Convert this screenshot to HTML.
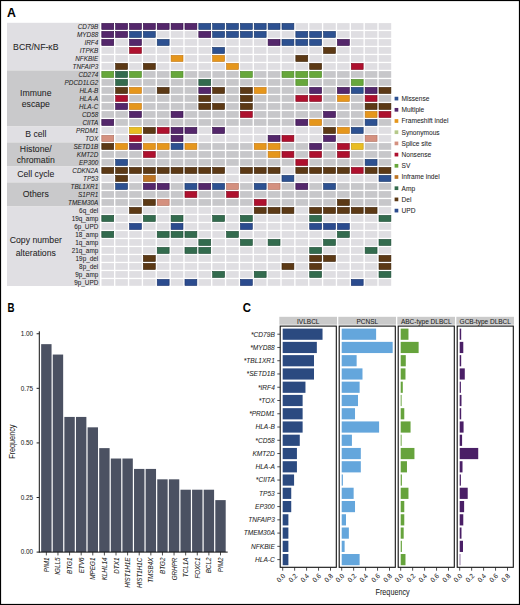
<!DOCTYPE html>
<html><head><meta charset="utf-8"><style>
html,body{margin:0;padding:0;background:#fff;}
svg{display:block;}
text{font-family:"Liberation Sans", sans-serif;stroke:#1e1e1e;stroke-width:0.05px;}
</style></head><body>
<svg width="520" height="605" viewBox="0 0 520 605" font-family="Liberation Sans, sans-serif">
<rect x="0" y="0" width="520" height="605" fill="#fff"/>
<text x="6.9" y="16.8" font-size="12" font-weight="bold" textLength="8.9" lengthAdjust="spacingAndGlyphs" fill="#000">A</text>
<rect x="7.0" y="22.80" width="93.0" height="47.65" fill="#e0dfe3"/>
<text x="35.8" y="49.62" font-size="8.7" text-anchor="middle" fill="#1e1e1e">BCR/NF-κB</text>
<rect x="7.0" y="70.45" width="93.0" height="56.00" fill="#c9c9cb"/>
<text x="35.8" y="96.25" font-size="8.7" text-anchor="middle" fill="#1e1e1e">Immune</text>
<text x="35.8" y="106.65" font-size="8.7" text-anchor="middle" fill="#1e1e1e">escape</text>
<rect x="7.0" y="126.45" width="93.0" height="16.00" fill="#e0dfe3"/>
<text x="35.8" y="137.45" font-size="8.7" text-anchor="middle" fill="#1e1e1e">B cell</text>
<rect x="7.0" y="142.45" width="93.0" height="24.00" fill="#c9c9cb"/>
<text x="35.8" y="152.25" font-size="8.7" text-anchor="middle" fill="#1e1e1e">Histone/</text>
<text x="35.8" y="162.65" font-size="8.7" text-anchor="middle" fill="#1e1e1e">chromatin</text>
<rect x="7.0" y="166.45" width="93.0" height="16.00" fill="#e0dfe3"/>
<text x="35.8" y="177.45" font-size="8.7" text-anchor="middle" fill="#1e1e1e">Cell cycle</text>
<rect x="7.0" y="182.45" width="93.0" height="24.00" fill="#c9c9cb"/>
<text x="35.8" y="197.45" font-size="8.7" text-anchor="middle" fill="#1e1e1e">Others</text>
<rect x="7.0" y="206.45" width="93.0" height="79.55" fill="#e0dfe3"/>
<text x="35.8" y="242.67" font-size="8.7" text-anchor="middle" fill="#1e1e1e">Copy number</text>
<text x="35.8" y="255.78" font-size="8.7" text-anchor="middle" fill="#1e1e1e">alterations</text>
<rect x="101.80" y="23.40" width="11.90" height="6.10" fill="#54276b" stroke="#300a45" stroke-width="0.6"/>
<rect x="115.66" y="23.40" width="11.90" height="6.10" fill="#54276b" stroke="#300a45" stroke-width="0.6"/>
<rect x="129.52" y="23.40" width="11.90" height="6.10" fill="#54276b" stroke="#300a45" stroke-width="0.6"/>
<rect x="143.38" y="23.40" width="11.90" height="6.10" fill="#54276b" stroke="#300a45" stroke-width="0.6"/>
<rect x="157.24" y="23.40" width="11.90" height="6.10" fill="#54276b" stroke="#300a45" stroke-width="0.6"/>
<rect x="171.10" y="23.40" width="11.90" height="6.10" fill="#54276b" stroke="#300a45" stroke-width="0.6"/>
<rect x="184.96" y="23.40" width="11.90" height="6.10" fill="#54276b" stroke="#300a45" stroke-width="0.6"/>
<rect x="198.82" y="23.40" width="11.90" height="6.10" fill="#2d5191" stroke="#173466" stroke-width="0.6"/>
<rect x="212.68" y="23.40" width="11.90" height="6.10" fill="#2d5191" stroke="#173466" stroke-width="0.6"/>
<rect x="226.54" y="23.40" width="11.90" height="6.10" fill="#2d5191" stroke="#173466" stroke-width="0.6"/>
<rect x="240.40" y="23.40" width="11.90" height="6.10" fill="#2d5191" stroke="#173466" stroke-width="0.6"/>
<rect x="254.26" y="23.40" width="11.90" height="6.10" fill="#2d5191" stroke="#173466" stroke-width="0.6"/>
<rect x="268.12" y="23.40" width="11.90" height="6.10" fill="#2d5191" stroke="#173466" stroke-width="0.6"/>
<rect x="281.98" y="23.40" width="11.90" height="6.10" fill="#2d5191" stroke="#173466" stroke-width="0.6"/>
<rect x="295.54" y="23.10" width="12.5" height="6.7" fill="#dfdee2"/>
<rect x="309.40" y="23.10" width="12.5" height="6.7" fill="#dfdee2"/>
<rect x="323.26" y="23.10" width="12.5" height="6.7" fill="#dfdee2"/>
<rect x="337.12" y="23.10" width="12.5" height="6.7" fill="#dfdee2"/>
<rect x="350.98" y="23.10" width="12.5" height="6.7" fill="#dfdee2"/>
<rect x="364.84" y="23.10" width="12.5" height="6.7" fill="#dfdee2"/>
<rect x="378.70" y="23.10" width="12.5" height="6.7" fill="#dfdee2"/>
<text x="98.3" y="28.65" font-size="6.4" text-anchor="end" fill="#1e1e1e" font-style="italic">CD79B</text>
<rect x="101.80" y="31.40" width="11.90" height="6.10" fill="#54276b" stroke="#300a45" stroke-width="0.6"/>
<rect x="115.66" y="31.40" width="11.90" height="6.10" fill="#54276b" stroke="#300a45" stroke-width="0.6"/>
<rect x="129.52" y="31.40" width="11.90" height="6.10" fill="#2d5191" stroke="#173466" stroke-width="0.6"/>
<rect x="143.38" y="31.40" width="11.90" height="6.10" fill="#2d5191" stroke="#173466" stroke-width="0.6"/>
<rect x="156.94" y="31.10" width="12.5" height="6.7" fill="#dfdee2"/>
<rect x="170.80" y="31.10" width="12.5" height="6.7" fill="#dfdee2"/>
<rect x="184.66" y="31.10" width="12.5" height="6.7" fill="#dfdee2"/>
<rect x="198.82" y="31.40" width="11.90" height="6.10" fill="#54276b" stroke="#300a45" stroke-width="0.6"/>
<rect x="212.68" y="31.40" width="11.90" height="6.10" fill="#2d5191" stroke="#173466" stroke-width="0.6"/>
<rect x="226.54" y="31.40" width="11.90" height="6.10" fill="#2d5191" stroke="#173466" stroke-width="0.6"/>
<rect x="240.40" y="31.40" width="11.90" height="6.10" fill="#2d5191" stroke="#173466" stroke-width="0.6"/>
<rect x="254.26" y="31.40" width="11.90" height="6.10" fill="#2d5191" stroke="#173466" stroke-width="0.6"/>
<rect x="267.82" y="31.10" width="12.5" height="6.7" fill="#dfdee2"/>
<rect x="281.68" y="31.10" width="12.5" height="6.7" fill="#dfdee2"/>
<rect x="295.84" y="31.40" width="11.90" height="6.10" fill="#2d5191" stroke="#173466" stroke-width="0.6"/>
<rect x="309.70" y="31.40" width="11.90" height="6.10" fill="#2d5191" stroke="#173466" stroke-width="0.6"/>
<rect x="323.56" y="31.40" width="11.90" height="6.10" fill="#2d5191" stroke="#173466" stroke-width="0.6"/>
<rect x="337.12" y="31.10" width="12.5" height="6.7" fill="#dfdee2"/>
<rect x="350.98" y="31.10" width="12.5" height="6.7" fill="#dfdee2"/>
<rect x="364.84" y="31.10" width="12.5" height="6.7" fill="#dfdee2"/>
<rect x="378.70" y="31.10" width="12.5" height="6.7" fill="#dfdee2"/>
<text x="98.3" y="36.65" font-size="6.4" text-anchor="end" fill="#1e1e1e" font-style="italic">MYD88</text>
<rect x="101.80" y="39.40" width="11.90" height="6.10" fill="#54276b" stroke="#300a45" stroke-width="0.6"/>
<rect x="115.36" y="39.10" width="12.5" height="6.7" fill="#dfdee2"/>
<rect x="129.52" y="39.40" width="11.90" height="6.10" fill="#54276b" stroke="#300a45" stroke-width="0.6"/>
<rect x="143.08" y="39.10" width="12.5" height="6.7" fill="#dfdee2"/>
<rect x="157.24" y="39.40" width="11.90" height="6.10" fill="#2d5191" stroke="#173466" stroke-width="0.6"/>
<rect x="170.80" y="39.10" width="12.5" height="6.7" fill="#dfdee2"/>
<rect x="184.66" y="39.10" width="12.5" height="6.7" fill="#dfdee2"/>
<rect x="198.52" y="39.10" width="12.5" height="6.7" fill="#dfdee2"/>
<rect x="212.38" y="39.10" width="12.5" height="6.7" fill="#dfdee2"/>
<rect x="226.24" y="39.10" width="12.5" height="6.7" fill="#dfdee2"/>
<rect x="240.10" y="39.10" width="12.5" height="6.7" fill="#dfdee2"/>
<rect x="253.96" y="39.10" width="12.5" height="6.7" fill="#dfdee2"/>
<rect x="268.12" y="39.40" width="11.90" height="6.10" fill="#54276b" stroke="#300a45" stroke-width="0.6"/>
<rect x="281.98" y="39.40" width="11.90" height="6.10" fill="#2d5191" stroke="#173466" stroke-width="0.6"/>
<rect x="295.84" y="39.40" width="11.90" height="6.10" fill="#2d5191" stroke="#173466" stroke-width="0.6"/>
<rect x="309.70" y="39.40" width="11.90" height="6.10" fill="#2d5191" stroke="#173466" stroke-width="0.6"/>
<rect x="323.26" y="39.10" width="12.5" height="6.7" fill="#dfdee2"/>
<rect x="337.42" y="39.40" width="11.90" height="6.10" fill="#54276b" stroke="#300a45" stroke-width="0.6"/>
<rect x="350.98" y="39.10" width="12.5" height="6.7" fill="#dfdee2"/>
<rect x="364.84" y="39.10" width="12.5" height="6.7" fill="#dfdee2"/>
<rect x="378.70" y="39.10" width="12.5" height="6.7" fill="#dfdee2"/>
<text x="98.3" y="44.65" font-size="6.4" text-anchor="end" fill="#1e1e1e" font-style="italic">IRF4</text>
<rect x="101.50" y="47.10" width="12.5" height="6.7" fill="#dfdee2"/>
<rect x="115.36" y="47.10" width="12.5" height="6.7" fill="#dfdee2"/>
<rect x="129.52" y="47.40" width="11.90" height="6.10" fill="#ae102e" stroke="#7e061c" stroke-width="0.6"/>
<rect x="143.08" y="47.10" width="12.5" height="6.7" fill="#dfdee2"/>
<rect x="156.94" y="47.10" width="12.5" height="6.7" fill="#dfdee2"/>
<rect x="170.80" y="47.10" width="12.5" height="6.7" fill="#dfdee2"/>
<rect x="184.66" y="47.10" width="12.5" height="6.7" fill="#dfdee2"/>
<rect x="198.52" y="47.10" width="12.5" height="6.7" fill="#dfdee2"/>
<rect x="212.68" y="47.40" width="11.90" height="6.10" fill="#2d5191" stroke="#173466" stroke-width="0.6"/>
<rect x="226.24" y="47.10" width="12.5" height="6.7" fill="#dfdee2"/>
<rect x="240.10" y="47.10" width="12.5" height="6.7" fill="#dfdee2"/>
<rect x="253.96" y="47.10" width="12.5" height="6.7" fill="#dfdee2"/>
<rect x="267.82" y="47.10" width="12.5" height="6.7" fill="#dfdee2"/>
<rect x="281.68" y="47.10" width="12.5" height="6.7" fill="#dfdee2"/>
<rect x="295.54" y="47.10" width="12.5" height="6.7" fill="#dfdee2"/>
<rect x="309.40" y="47.10" width="12.5" height="6.7" fill="#dfdee2"/>
<rect x="323.56" y="47.40" width="11.90" height="6.10" fill="#5c3915" stroke="#3a2006" stroke-width="0.6"/>
<rect x="337.12" y="47.10" width="12.5" height="6.7" fill="#dfdee2"/>
<rect x="350.98" y="47.10" width="12.5" height="6.7" fill="#dfdee2"/>
<rect x="364.84" y="47.10" width="12.5" height="6.7" fill="#dfdee2"/>
<rect x="378.70" y="47.10" width="12.5" height="6.7" fill="#dfdee2"/>
<text x="98.3" y="52.65" font-size="6.4" text-anchor="end" fill="#1e1e1e" font-style="italic">ITPKB</text>
<rect x="101.50" y="55.10" width="12.5" height="6.7" fill="#dfdee2"/>
<rect x="115.36" y="55.10" width="12.5" height="6.7" fill="#dfdee2"/>
<rect x="129.22" y="55.10" width="12.5" height="6.7" fill="#dfdee2"/>
<rect x="143.08" y="55.10" width="12.5" height="6.7" fill="#dfdee2"/>
<rect x="156.94" y="55.10" width="12.5" height="6.7" fill="#dfdee2"/>
<rect x="171.10" y="55.40" width="11.90" height="6.10" fill="#e5961c" stroke="#c27510" stroke-width="0.6"/>
<rect x="184.66" y="55.10" width="12.5" height="6.7" fill="#dfdee2"/>
<rect x="198.52" y="55.10" width="12.5" height="6.7" fill="#dfdee2"/>
<rect x="212.68" y="55.40" width="11.90" height="6.10" fill="#e5961c" stroke="#c27510" stroke-width="0.6"/>
<rect x="226.24" y="55.10" width="12.5" height="6.7" fill="#dfdee2"/>
<rect x="240.10" y="55.10" width="12.5" height="6.7" fill="#dfdee2"/>
<rect x="253.96" y="55.10" width="12.5" height="6.7" fill="#dfdee2"/>
<rect x="267.82" y="55.10" width="12.5" height="6.7" fill="#dfdee2"/>
<rect x="281.68" y="55.10" width="12.5" height="6.7" fill="#dfdee2"/>
<rect x="295.84" y="55.40" width="11.90" height="6.10" fill="#5c3915" stroke="#3a2006" stroke-width="0.6"/>
<rect x="309.40" y="55.10" width="12.5" height="6.7" fill="#dfdee2"/>
<rect x="323.26" y="55.10" width="12.5" height="6.7" fill="#dfdee2"/>
<rect x="337.12" y="55.10" width="12.5" height="6.7" fill="#dfdee2"/>
<rect x="350.98" y="55.10" width="12.5" height="6.7" fill="#dfdee2"/>
<rect x="364.84" y="55.10" width="12.5" height="6.7" fill="#dfdee2"/>
<rect x="378.70" y="55.10" width="12.5" height="6.7" fill="#dfdee2"/>
<text x="98.3" y="60.65" font-size="6.4" text-anchor="end" fill="#1e1e1e" font-style="italic">NFKBIE</text>
<rect x="101.50" y="63.10" width="12.5" height="6.7" fill="#dfdee2"/>
<rect x="115.66" y="63.40" width="11.90" height="6.10" fill="#5c3915" stroke="#3a2006" stroke-width="0.6"/>
<rect x="129.22" y="63.10" width="12.5" height="6.7" fill="#dfdee2"/>
<rect x="143.38" y="63.40" width="11.90" height="6.10" fill="#5c3915" stroke="#3a2006" stroke-width="0.6"/>
<rect x="156.94" y="63.10" width="12.5" height="6.7" fill="#dfdee2"/>
<rect x="170.80" y="63.10" width="12.5" height="6.7" fill="#dfdee2"/>
<rect x="184.66" y="63.10" width="12.5" height="6.7" fill="#dfdee2"/>
<rect x="198.52" y="63.10" width="12.5" height="6.7" fill="#dfdee2"/>
<rect x="212.38" y="63.10" width="12.5" height="6.7" fill="#dfdee2"/>
<rect x="226.54" y="63.40" width="11.90" height="6.10" fill="#e5961c" stroke="#c27510" stroke-width="0.6"/>
<rect x="240.10" y="63.10" width="12.5" height="6.7" fill="#dfdee2"/>
<rect x="253.96" y="63.10" width="12.5" height="6.7" fill="#dfdee2"/>
<rect x="267.82" y="63.10" width="12.5" height="6.7" fill="#dfdee2"/>
<rect x="281.68" y="63.10" width="12.5" height="6.7" fill="#dfdee2"/>
<rect x="295.54" y="63.10" width="12.5" height="6.7" fill="#dfdee2"/>
<rect x="309.70" y="63.40" width="11.90" height="6.10" fill="#5c3915" stroke="#3a2006" stroke-width="0.6"/>
<rect x="323.26" y="63.10" width="12.5" height="6.7" fill="#dfdee2"/>
<rect x="337.12" y="63.10" width="12.5" height="6.7" fill="#dfdee2"/>
<rect x="351.28" y="63.40" width="11.90" height="6.10" fill="#ae102e" stroke="#7e061c" stroke-width="0.6"/>
<rect x="364.84" y="63.10" width="12.5" height="6.7" fill="#dfdee2"/>
<rect x="378.70" y="63.10" width="12.5" height="6.7" fill="#dfdee2"/>
<text x="98.3" y="68.65" font-size="6.4" text-anchor="end" fill="#1e1e1e" font-style="italic">TNFAIP3</text>
<rect x="101.80" y="71.40" width="11.90" height="6.10" fill="#67a73b" stroke="#4a8524" stroke-width="0.6"/>
<rect x="115.66" y="71.40" width="11.90" height="6.10" fill="#336b4e" stroke="#1a4a32" stroke-width="0.6"/>
<rect x="129.52" y="71.40" width="11.90" height="6.10" fill="#67a73b" stroke="#4a8524" stroke-width="0.6"/>
<rect x="143.08" y="71.10" width="12.5" height="6.7" fill="#c7c7ca"/>
<rect x="156.94" y="71.10" width="12.5" height="6.7" fill="#c7c7ca"/>
<rect x="171.10" y="71.40" width="11.90" height="6.10" fill="#67a73b" stroke="#4a8524" stroke-width="0.6"/>
<rect x="184.66" y="71.10" width="12.5" height="6.7" fill="#c7c7ca"/>
<rect x="198.52" y="71.10" width="12.5" height="6.7" fill="#c7c7ca"/>
<rect x="212.38" y="71.10" width="12.5" height="6.7" fill="#c7c7ca"/>
<rect x="226.24" y="71.10" width="12.5" height="6.7" fill="#c7c7ca"/>
<rect x="240.40" y="71.40" width="11.90" height="6.10" fill="#67a73b" stroke="#4a8524" stroke-width="0.6"/>
<rect x="253.96" y="71.10" width="12.5" height="6.7" fill="#c7c7ca"/>
<rect x="267.82" y="71.10" width="12.5" height="6.7" fill="#c7c7ca"/>
<rect x="281.98" y="71.40" width="11.90" height="6.10" fill="#67a73b" stroke="#4a8524" stroke-width="0.6"/>
<rect x="295.84" y="71.40" width="11.90" height="6.10" fill="#67a73b" stroke="#4a8524" stroke-width="0.6"/>
<rect x="309.70" y="71.40" width="11.90" height="6.10" fill="#67a73b" stroke="#4a8524" stroke-width="0.6"/>
<rect x="323.26" y="71.10" width="12.5" height="6.7" fill="#c7c7ca"/>
<rect x="337.12" y="71.10" width="12.5" height="6.7" fill="#c7c7ca"/>
<rect x="350.98" y="71.10" width="12.5" height="6.7" fill="#c7c7ca"/>
<rect x="364.84" y="71.10" width="12.5" height="6.7" fill="#c7c7ca"/>
<rect x="378.70" y="71.10" width="12.5" height="6.7" fill="#c7c7ca"/>
<text x="98.3" y="76.65" font-size="6.4" text-anchor="end" fill="#1e1e1e" font-style="italic">CD274</text>
<rect x="101.50" y="79.10" width="12.5" height="6.7" fill="#c7c7ca"/>
<rect x="115.66" y="79.40" width="11.90" height="6.10" fill="#336b4e" stroke="#1a4a32" stroke-width="0.6"/>
<rect x="129.22" y="79.10" width="12.5" height="6.7" fill="#c7c7ca"/>
<rect x="143.08" y="79.10" width="12.5" height="6.7" fill="#c7c7ca"/>
<rect x="156.94" y="79.10" width="12.5" height="6.7" fill="#c7c7ca"/>
<rect x="170.80" y="79.10" width="12.5" height="6.7" fill="#c7c7ca"/>
<rect x="184.66" y="79.10" width="12.5" height="6.7" fill="#c7c7ca"/>
<rect x="198.82" y="79.40" width="11.90" height="6.10" fill="#336b4e" stroke="#1a4a32" stroke-width="0.6"/>
<rect x="212.38" y="79.10" width="12.5" height="6.7" fill="#c7c7ca"/>
<rect x="226.24" y="79.10" width="12.5" height="6.7" fill="#c7c7ca"/>
<rect x="240.10" y="79.10" width="12.5" height="6.7" fill="#c7c7ca"/>
<rect x="253.96" y="79.10" width="12.5" height="6.7" fill="#c7c7ca"/>
<rect x="267.82" y="79.10" width="12.5" height="6.7" fill="#c7c7ca"/>
<rect x="281.68" y="79.10" width="12.5" height="6.7" fill="#c7c7ca"/>
<rect x="295.84" y="79.40" width="11.90" height="6.10" fill="#67a73b" stroke="#4a8524" stroke-width="0.6"/>
<rect x="309.40" y="79.10" width="12.5" height="6.7" fill="#c7c7ca"/>
<rect x="323.26" y="79.10" width="12.5" height="6.7" fill="#c7c7ca"/>
<rect x="337.12" y="79.10" width="12.5" height="6.7" fill="#c7c7ca"/>
<rect x="351.28" y="79.40" width="11.90" height="6.10" fill="#67a73b" stroke="#4a8524" stroke-width="0.6"/>
<rect x="364.84" y="79.10" width="12.5" height="6.7" fill="#c7c7ca"/>
<rect x="378.70" y="79.10" width="12.5" height="6.7" fill="#c7c7ca"/>
<text x="98.3" y="84.65" font-size="6.4" text-anchor="end" fill="#1e1e1e" font-style="italic">PDCD1LG2</text>
<rect x="101.50" y="87.10" width="12.5" height="6.7" fill="#c7c7ca"/>
<rect x="115.66" y="87.40" width="11.90" height="6.10" fill="#5c3915" stroke="#3a2006" stroke-width="0.6"/>
<rect x="129.52" y="87.40" width="11.90" height="6.10" fill="#e5961c" stroke="#c27510" stroke-width="0.6"/>
<rect x="143.08" y="87.10" width="12.5" height="6.7" fill="#c7c7ca"/>
<rect x="157.24" y="87.40" width="11.90" height="6.10" fill="#5c3915" stroke="#3a2006" stroke-width="0.6"/>
<rect x="170.80" y="87.10" width="12.5" height="6.7" fill="#c7c7ca"/>
<rect x="184.66" y="87.10" width="12.5" height="6.7" fill="#c7c7ca"/>
<rect x="198.82" y="87.40" width="11.90" height="6.10" fill="#54276b" stroke="#300a45" stroke-width="0.6"/>
<rect x="212.68" y="87.40" width="11.90" height="6.10" fill="#5c3915" stroke="#3a2006" stroke-width="0.6"/>
<rect x="226.24" y="87.10" width="12.5" height="6.7" fill="#c7c7ca"/>
<rect x="240.40" y="87.40" width="11.90" height="6.10" fill="#5c3915" stroke="#3a2006" stroke-width="0.6"/>
<rect x="254.26" y="87.40" width="11.90" height="6.10" fill="#e5961c" stroke="#c27510" stroke-width="0.6"/>
<rect x="267.82" y="87.10" width="12.5" height="6.7" fill="#c7c7ca"/>
<rect x="281.68" y="87.10" width="12.5" height="6.7" fill="#c7c7ca"/>
<rect x="295.54" y="87.10" width="12.5" height="6.7" fill="#c7c7ca"/>
<rect x="309.70" y="87.40" width="11.90" height="6.10" fill="#54276b" stroke="#300a45" stroke-width="0.6"/>
<rect x="323.26" y="87.10" width="12.5" height="6.7" fill="#c7c7ca"/>
<rect x="337.42" y="87.40" width="11.90" height="6.10" fill="#54276b" stroke="#300a45" stroke-width="0.6"/>
<rect x="351.28" y="87.40" width="11.90" height="6.10" fill="#2d5191" stroke="#173466" stroke-width="0.6"/>
<rect x="365.14" y="87.40" width="11.90" height="6.10" fill="#54276b" stroke="#300a45" stroke-width="0.6"/>
<rect x="379.00" y="87.40" width="11.90" height="6.10" fill="#5c3915" stroke="#3a2006" stroke-width="0.6"/>
<text x="98.3" y="92.65" font-size="6.4" text-anchor="end" fill="#1e1e1e" font-style="italic">HLA-B</text>
<rect x="101.50" y="95.10" width="12.5" height="6.7" fill="#c7c7ca"/>
<rect x="115.66" y="95.40" width="11.90" height="6.10" fill="#ae102e" stroke="#7e061c" stroke-width="0.6"/>
<rect x="129.22" y="95.10" width="12.5" height="6.7" fill="#c7c7ca"/>
<rect x="143.08" y="95.10" width="12.5" height="6.7" fill="#c7c7ca"/>
<rect x="156.94" y="95.10" width="12.5" height="6.7" fill="#c7c7ca"/>
<rect x="170.80" y="95.10" width="12.5" height="6.7" fill="#c7c7ca"/>
<rect x="184.66" y="95.10" width="12.5" height="6.7" fill="#c7c7ca"/>
<rect x="198.82" y="95.40" width="11.90" height="6.10" fill="#5c3915" stroke="#3a2006" stroke-width="0.6"/>
<rect x="212.38" y="95.10" width="12.5" height="6.7" fill="#c7c7ca"/>
<rect x="226.24" y="95.10" width="12.5" height="6.7" fill="#c7c7ca"/>
<rect x="240.40" y="95.40" width="11.90" height="6.10" fill="#5c3915" stroke="#3a2006" stroke-width="0.6"/>
<rect x="253.96" y="95.10" width="12.5" height="6.7" fill="#c7c7ca"/>
<rect x="267.82" y="95.10" width="12.5" height="6.7" fill="#c7c7ca"/>
<rect x="281.68" y="95.10" width="12.5" height="6.7" fill="#c7c7ca"/>
<rect x="295.84" y="95.40" width="11.90" height="6.10" fill="#ae102e" stroke="#7e061c" stroke-width="0.6"/>
<rect x="309.70" y="95.40" width="11.90" height="6.10" fill="#ae102e" stroke="#7e061c" stroke-width="0.6"/>
<rect x="323.26" y="95.10" width="12.5" height="6.7" fill="#c7c7ca"/>
<rect x="337.42" y="95.40" width="11.90" height="6.10" fill="#e5961c" stroke="#c27510" stroke-width="0.6"/>
<rect x="350.98" y="95.10" width="12.5" height="6.7" fill="#c7c7ca"/>
<rect x="365.14" y="95.40" width="11.90" height="6.10" fill="#ae102e" stroke="#7e061c" stroke-width="0.6"/>
<rect x="378.70" y="95.10" width="12.5" height="6.7" fill="#c7c7ca"/>
<text x="98.3" y="100.65" font-size="6.4" text-anchor="end" fill="#1e1e1e" font-style="italic">HLA-A</text>
<rect x="101.50" y="103.10" width="12.5" height="6.7" fill="#c7c7ca"/>
<rect x="115.66" y="103.40" width="11.90" height="6.10" fill="#54276b" stroke="#300a45" stroke-width="0.6"/>
<rect x="129.52" y="103.40" width="11.90" height="6.10" fill="#e5961c" stroke="#c27510" stroke-width="0.6"/>
<rect x="143.08" y="103.10" width="12.5" height="6.7" fill="#c7c7ca"/>
<rect x="156.94" y="103.10" width="12.5" height="6.7" fill="#c7c7ca"/>
<rect x="170.80" y="103.10" width="12.5" height="6.7" fill="#c7c7ca"/>
<rect x="184.66" y="103.10" width="12.5" height="6.7" fill="#c7c7ca"/>
<rect x="198.82" y="103.40" width="11.90" height="6.10" fill="#5c3915" stroke="#3a2006" stroke-width="0.6"/>
<rect x="212.68" y="103.40" width="11.90" height="6.10" fill="#5c3915" stroke="#3a2006" stroke-width="0.6"/>
<rect x="226.24" y="103.10" width="12.5" height="6.7" fill="#c7c7ca"/>
<rect x="240.40" y="103.40" width="11.90" height="6.10" fill="#5c3915" stroke="#3a2006" stroke-width="0.6"/>
<rect x="253.96" y="103.10" width="12.5" height="6.7" fill="#c7c7ca"/>
<rect x="267.82" y="103.10" width="12.5" height="6.7" fill="#c7c7ca"/>
<rect x="281.68" y="103.10" width="12.5" height="6.7" fill="#c7c7ca"/>
<rect x="295.54" y="103.10" width="12.5" height="6.7" fill="#c7c7ca"/>
<rect x="309.40" y="103.10" width="12.5" height="6.7" fill="#c7c7ca"/>
<rect x="323.26" y="103.10" width="12.5" height="6.7" fill="#c7c7ca"/>
<rect x="337.12" y="103.10" width="12.5" height="6.7" fill="#c7c7ca"/>
<rect x="350.98" y="103.10" width="12.5" height="6.7" fill="#c7c7ca"/>
<rect x="365.14" y="103.40" width="11.90" height="6.10" fill="#5c3915" stroke="#3a2006" stroke-width="0.6"/>
<rect x="379.00" y="103.40" width="11.90" height="6.10" fill="#5c3915" stroke="#3a2006" stroke-width="0.6"/>
<text x="98.3" y="108.65" font-size="6.4" text-anchor="end" fill="#1e1e1e" font-style="italic">HLA-C</text>
<rect x="101.50" y="111.10" width="12.5" height="6.7" fill="#c7c7ca"/>
<rect x="115.36" y="111.10" width="12.5" height="6.7" fill="#c7c7ca"/>
<rect x="129.52" y="111.40" width="11.90" height="6.10" fill="#54276b" stroke="#300a45" stroke-width="0.6"/>
<rect x="143.08" y="111.10" width="12.5" height="6.7" fill="#c7c7ca"/>
<rect x="156.94" y="111.10" width="12.5" height="6.7" fill="#c7c7ca"/>
<rect x="171.10" y="111.40" width="11.90" height="6.10" fill="#54276b" stroke="#300a45" stroke-width="0.6"/>
<rect x="184.66" y="111.10" width="12.5" height="6.7" fill="#c7c7ca"/>
<rect x="198.52" y="111.10" width="12.5" height="6.7" fill="#c7c7ca"/>
<rect x="212.38" y="111.10" width="12.5" height="6.7" fill="#c7c7ca"/>
<rect x="226.24" y="111.10" width="12.5" height="6.7" fill="#c7c7ca"/>
<rect x="240.40" y="111.40" width="11.90" height="6.10" fill="#ae102e" stroke="#7e061c" stroke-width="0.6"/>
<rect x="253.96" y="111.10" width="12.5" height="6.7" fill="#c7c7ca"/>
<rect x="267.82" y="111.10" width="12.5" height="6.7" fill="#c7c7ca"/>
<rect x="281.68" y="111.10" width="12.5" height="6.7" fill="#c7c7ca"/>
<rect x="295.54" y="111.10" width="12.5" height="6.7" fill="#c7c7ca"/>
<rect x="309.40" y="111.10" width="12.5" height="6.7" fill="#c7c7ca"/>
<rect x="323.56" y="111.40" width="11.90" height="6.10" fill="#54276b" stroke="#300a45" stroke-width="0.6"/>
<rect x="337.12" y="111.10" width="12.5" height="6.7" fill="#c7c7ca"/>
<rect x="350.98" y="111.10" width="12.5" height="6.7" fill="#c7c7ca"/>
<rect x="365.14" y="111.40" width="11.90" height="6.10" fill="#e5961c" stroke="#c27510" stroke-width="0.6"/>
<rect x="379.00" y="111.40" width="11.90" height="6.10" fill="#ae102e" stroke="#7e061c" stroke-width="0.6"/>
<text x="98.3" y="116.65" font-size="6.4" text-anchor="end" fill="#1e1e1e" font-style="italic">CD58</text>
<rect x="101.80" y="119.40" width="11.90" height="6.10" fill="#54276b" stroke="#300a45" stroke-width="0.6"/>
<rect x="115.36" y="119.10" width="12.5" height="6.7" fill="#c7c7ca"/>
<rect x="129.22" y="119.10" width="12.5" height="6.7" fill="#c7c7ca"/>
<rect x="143.08" y="119.10" width="12.5" height="6.7" fill="#c7c7ca"/>
<rect x="156.94" y="119.10" width="12.5" height="6.7" fill="#c7c7ca"/>
<rect x="170.80" y="119.10" width="12.5" height="6.7" fill="#c7c7ca"/>
<rect x="184.66" y="119.10" width="12.5" height="6.7" fill="#c7c7ca"/>
<rect x="198.52" y="119.10" width="12.5" height="6.7" fill="#c7c7ca"/>
<rect x="212.38" y="119.10" width="12.5" height="6.7" fill="#c7c7ca"/>
<rect x="226.24" y="119.10" width="12.5" height="6.7" fill="#c7c7ca"/>
<rect x="240.10" y="119.10" width="12.5" height="6.7" fill="#c7c7ca"/>
<rect x="253.96" y="119.10" width="12.5" height="6.7" fill="#c7c7ca"/>
<rect x="267.82" y="119.10" width="12.5" height="6.7" fill="#c7c7ca"/>
<rect x="281.68" y="119.10" width="12.5" height="6.7" fill="#c7c7ca"/>
<rect x="295.84" y="119.40" width="11.90" height="6.10" fill="#54276b" stroke="#300a45" stroke-width="0.6"/>
<rect x="309.70" y="119.40" width="11.90" height="6.10" fill="#e5961c" stroke="#c27510" stroke-width="0.6"/>
<rect x="323.26" y="119.10" width="12.5" height="6.7" fill="#c7c7ca"/>
<rect x="337.12" y="119.10" width="12.5" height="6.7" fill="#c7c7ca"/>
<rect x="350.98" y="119.10" width="12.5" height="6.7" fill="#c7c7ca"/>
<rect x="365.14" y="119.40" width="11.90" height="6.10" fill="#2d5191" stroke="#173466" stroke-width="0.6"/>
<rect x="378.70" y="119.10" width="12.5" height="6.7" fill="#c7c7ca"/>
<text x="98.3" y="124.65" font-size="6.4" text-anchor="end" fill="#1e1e1e" font-style="italic">CIITA</text>
<rect x="101.50" y="127.10" width="12.5" height="6.7" fill="#dfdee2"/>
<rect x="115.36" y="127.10" width="12.5" height="6.7" fill="#dfdee2"/>
<rect x="129.52" y="127.40" width="11.90" height="6.10" fill="#e9bd22" stroke="#c29a0c" stroke-width="0.6"/>
<rect x="143.38" y="127.40" width="11.90" height="6.10" fill="#5c3915" stroke="#3a2006" stroke-width="0.6"/>
<rect x="157.24" y="127.40" width="11.90" height="6.10" fill="#ae102e" stroke="#7e061c" stroke-width="0.6"/>
<rect x="171.10" y="127.40" width="11.90" height="6.10" fill="#54276b" stroke="#300a45" stroke-width="0.6"/>
<rect x="184.96" y="127.40" width="11.90" height="6.10" fill="#54276b" stroke="#300a45" stroke-width="0.6"/>
<rect x="198.52" y="127.10" width="12.5" height="6.7" fill="#dfdee2"/>
<rect x="212.68" y="127.40" width="11.90" height="6.10" fill="#54276b" stroke="#300a45" stroke-width="0.6"/>
<rect x="226.24" y="127.10" width="12.5" height="6.7" fill="#dfdee2"/>
<rect x="240.10" y="127.10" width="12.5" height="6.7" fill="#dfdee2"/>
<rect x="253.96" y="127.10" width="12.5" height="6.7" fill="#dfdee2"/>
<rect x="267.82" y="127.10" width="12.5" height="6.7" fill="#dfdee2"/>
<rect x="281.68" y="127.10" width="12.5" height="6.7" fill="#dfdee2"/>
<rect x="295.54" y="127.10" width="12.5" height="6.7" fill="#dfdee2"/>
<rect x="309.40" y="127.10" width="12.5" height="6.7" fill="#dfdee2"/>
<rect x="323.56" y="127.40" width="11.90" height="6.10" fill="#5c3915" stroke="#3a2006" stroke-width="0.6"/>
<rect x="337.42" y="127.40" width="11.90" height="6.10" fill="#e5961c" stroke="#c27510" stroke-width="0.6"/>
<rect x="351.28" y="127.40" width="11.90" height="6.10" fill="#2d5191" stroke="#173466" stroke-width="0.6"/>
<rect x="364.84" y="127.10" width="12.5" height="6.7" fill="#dfdee2"/>
<rect x="378.70" y="127.10" width="12.5" height="6.7" fill="#dfdee2"/>
<text x="98.3" y="132.65" font-size="6.4" text-anchor="end" fill="#1e1e1e" font-style="italic">PRDM1</text>
<rect x="101.80" y="135.40" width="11.90" height="6.10" fill="#d4907f" stroke="#b06e5e" stroke-width="0.6"/>
<rect x="115.36" y="135.10" width="12.5" height="6.7" fill="#dfdee2"/>
<rect x="129.52" y="135.40" width="11.90" height="6.10" fill="#ae102e" stroke="#7e061c" stroke-width="0.6"/>
<rect x="143.08" y="135.10" width="12.5" height="6.7" fill="#dfdee2"/>
<rect x="156.94" y="135.10" width="12.5" height="6.7" fill="#dfdee2"/>
<rect x="171.10" y="135.40" width="11.90" height="6.10" fill="#54276b" stroke="#300a45" stroke-width="0.6"/>
<rect x="184.66" y="135.10" width="12.5" height="6.7" fill="#dfdee2"/>
<rect x="198.52" y="135.10" width="12.5" height="6.7" fill="#dfdee2"/>
<rect x="212.38" y="135.10" width="12.5" height="6.7" fill="#dfdee2"/>
<rect x="226.24" y="135.10" width="12.5" height="6.7" fill="#dfdee2"/>
<rect x="240.10" y="135.10" width="12.5" height="6.7" fill="#dfdee2"/>
<rect x="253.96" y="135.10" width="12.5" height="6.7" fill="#dfdee2"/>
<rect x="268.12" y="135.40" width="11.90" height="6.10" fill="#54276b" stroke="#300a45" stroke-width="0.6"/>
<rect x="281.98" y="135.40" width="11.90" height="6.10" fill="#ae102e" stroke="#7e061c" stroke-width="0.6"/>
<rect x="295.54" y="135.10" width="12.5" height="6.7" fill="#dfdee2"/>
<rect x="309.40" y="135.10" width="12.5" height="6.7" fill="#dfdee2"/>
<rect x="323.56" y="135.40" width="11.90" height="6.10" fill="#54276b" stroke="#300a45" stroke-width="0.6"/>
<rect x="337.12" y="135.10" width="12.5" height="6.7" fill="#dfdee2"/>
<rect x="350.98" y="135.10" width="12.5" height="6.7" fill="#dfdee2"/>
<rect x="365.14" y="135.40" width="11.90" height="6.10" fill="#d4907f" stroke="#b06e5e" stroke-width="0.6"/>
<rect x="378.70" y="135.10" width="12.5" height="6.7" fill="#dfdee2"/>
<text x="98.3" y="140.65" font-size="6.4" text-anchor="end" fill="#1e1e1e" font-style="italic">TOX</text>
<rect x="101.80" y="143.40" width="11.90" height="6.10" fill="#5c3915" stroke="#3a2006" stroke-width="0.6"/>
<rect x="115.66" y="143.40" width="11.90" height="6.10" fill="#e5961c" stroke="#c27510" stroke-width="0.6"/>
<rect x="129.52" y="143.40" width="11.90" height="6.10" fill="#54276b" stroke="#300a45" stroke-width="0.6"/>
<rect x="143.38" y="143.40" width="11.90" height="6.10" fill="#e5961c" stroke="#c27510" stroke-width="0.6"/>
<rect x="157.24" y="143.40" width="11.90" height="6.10" fill="#e5961c" stroke="#c27510" stroke-width="0.6"/>
<rect x="171.10" y="143.40" width="11.90" height="6.10" fill="#2d5191" stroke="#173466" stroke-width="0.6"/>
<rect x="184.96" y="143.40" width="11.90" height="6.10" fill="#e5961c" stroke="#c27510" stroke-width="0.6"/>
<rect x="198.52" y="143.10" width="12.5" height="6.7" fill="#c7c7ca"/>
<rect x="212.38" y="143.10" width="12.5" height="6.7" fill="#c7c7ca"/>
<rect x="226.24" y="143.10" width="12.5" height="6.7" fill="#c7c7ca"/>
<rect x="240.10" y="143.10" width="12.5" height="6.7" fill="#c7c7ca"/>
<rect x="254.26" y="143.40" width="11.90" height="6.10" fill="#e5961c" stroke="#c27510" stroke-width="0.6"/>
<rect x="268.12" y="143.40" width="11.90" height="6.10" fill="#e5961c" stroke="#c27510" stroke-width="0.6"/>
<rect x="281.68" y="143.10" width="12.5" height="6.7" fill="#c7c7ca"/>
<rect x="295.54" y="143.10" width="12.5" height="6.7" fill="#c7c7ca"/>
<rect x="309.70" y="143.40" width="11.90" height="6.10" fill="#54276b" stroke="#300a45" stroke-width="0.6"/>
<rect x="323.26" y="143.10" width="12.5" height="6.7" fill="#c7c7ca"/>
<rect x="337.42" y="143.40" width="11.90" height="6.10" fill="#ae102e" stroke="#7e061c" stroke-width="0.6"/>
<rect x="351.28" y="143.40" width="11.90" height="6.10" fill="#e9bd22" stroke="#c29a0c" stroke-width="0.6"/>
<rect x="364.84" y="143.10" width="12.5" height="6.7" fill="#c7c7ca"/>
<rect x="378.70" y="143.10" width="12.5" height="6.7" fill="#c7c7ca"/>
<text x="98.3" y="148.65" font-size="6.4" text-anchor="end" fill="#1e1e1e" font-style="italic">SETD1B</text>
<rect x="101.50" y="151.10" width="12.5" height="6.7" fill="#c7c7ca"/>
<rect x="115.36" y="151.10" width="12.5" height="6.7" fill="#c7c7ca"/>
<rect x="129.22" y="151.10" width="12.5" height="6.7" fill="#c7c7ca"/>
<rect x="143.38" y="151.40" width="11.90" height="6.10" fill="#ae102e" stroke="#7e061c" stroke-width="0.6"/>
<rect x="156.94" y="151.10" width="12.5" height="6.7" fill="#c7c7ca"/>
<rect x="170.80" y="151.10" width="12.5" height="6.7" fill="#c7c7ca"/>
<rect x="184.66" y="151.10" width="12.5" height="6.7" fill="#c7c7ca"/>
<rect x="198.52" y="151.10" width="12.5" height="6.7" fill="#c7c7ca"/>
<rect x="212.38" y="151.10" width="12.5" height="6.7" fill="#c7c7ca"/>
<rect x="226.24" y="151.10" width="12.5" height="6.7" fill="#c7c7ca"/>
<rect x="240.10" y="151.10" width="12.5" height="6.7" fill="#c7c7ca"/>
<rect x="253.96" y="151.10" width="12.5" height="6.7" fill="#c7c7ca"/>
<rect x="268.12" y="151.40" width="11.90" height="6.10" fill="#e5961c" stroke="#c27510" stroke-width="0.6"/>
<rect x="281.98" y="151.40" width="11.90" height="6.10" fill="#ae102e" stroke="#7e061c" stroke-width="0.6"/>
<rect x="295.54" y="151.10" width="12.5" height="6.7" fill="#c7c7ca"/>
<rect x="309.70" y="151.40" width="11.90" height="6.10" fill="#ae102e" stroke="#7e061c" stroke-width="0.6"/>
<rect x="323.26" y="151.10" width="12.5" height="6.7" fill="#c7c7ca"/>
<rect x="337.42" y="151.40" width="11.90" height="6.10" fill="#ae102e" stroke="#7e061c" stroke-width="0.6"/>
<rect x="350.98" y="151.10" width="12.5" height="6.7" fill="#c7c7ca"/>
<rect x="364.84" y="151.10" width="12.5" height="6.7" fill="#c7c7ca"/>
<rect x="378.70" y="151.10" width="12.5" height="6.7" fill="#c7c7ca"/>
<text x="98.3" y="156.65" font-size="6.4" text-anchor="end" fill="#1e1e1e" font-style="italic">KMT2D</text>
<rect x="101.50" y="159.10" width="12.5" height="6.7" fill="#c7c7ca"/>
<rect x="115.66" y="159.40" width="11.90" height="6.10" fill="#2d5191" stroke="#173466" stroke-width="0.6"/>
<rect x="129.22" y="159.10" width="12.5" height="6.7" fill="#c7c7ca"/>
<rect x="143.08" y="159.10" width="12.5" height="6.7" fill="#c7c7ca"/>
<rect x="156.94" y="159.10" width="12.5" height="6.7" fill="#c7c7ca"/>
<rect x="170.80" y="159.10" width="12.5" height="6.7" fill="#c7c7ca"/>
<rect x="184.66" y="159.10" width="12.5" height="6.7" fill="#c7c7ca"/>
<rect x="198.52" y="159.10" width="12.5" height="6.7" fill="#c7c7ca"/>
<rect x="212.38" y="159.10" width="12.5" height="6.7" fill="#c7c7ca"/>
<rect x="226.24" y="159.10" width="12.5" height="6.7" fill="#c7c7ca"/>
<rect x="240.10" y="159.10" width="12.5" height="6.7" fill="#c7c7ca"/>
<rect x="253.96" y="159.10" width="12.5" height="6.7" fill="#c7c7ca"/>
<rect x="267.82" y="159.10" width="12.5" height="6.7" fill="#c7c7ca"/>
<rect x="281.68" y="159.10" width="12.5" height="6.7" fill="#c7c7ca"/>
<rect x="295.84" y="159.40" width="11.90" height="6.10" fill="#ae102e" stroke="#7e061c" stroke-width="0.6"/>
<rect x="309.40" y="159.10" width="12.5" height="6.7" fill="#c7c7ca"/>
<rect x="323.26" y="159.10" width="12.5" height="6.7" fill="#c7c7ca"/>
<rect x="337.12" y="159.10" width="12.5" height="6.7" fill="#c7c7ca"/>
<rect x="350.98" y="159.10" width="12.5" height="6.7" fill="#c7c7ca"/>
<rect x="365.14" y="159.40" width="11.90" height="6.10" fill="#2d5191" stroke="#173466" stroke-width="0.6"/>
<rect x="378.70" y="159.10" width="12.5" height="6.7" fill="#c7c7ca"/>
<text x="98.3" y="164.65" font-size="6.4" text-anchor="end" fill="#1e1e1e" font-style="italic">EP300</text>
<rect x="101.80" y="167.40" width="11.90" height="6.10" fill="#5c3915" stroke="#3a2006" stroke-width="0.6"/>
<rect x="115.66" y="167.40" width="11.90" height="6.10" fill="#5c3915" stroke="#3a2006" stroke-width="0.6"/>
<rect x="129.52" y="167.40" width="11.90" height="6.10" fill="#5c3915" stroke="#3a2006" stroke-width="0.6"/>
<rect x="143.38" y="167.40" width="11.90" height="6.10" fill="#5c3915" stroke="#3a2006" stroke-width="0.6"/>
<rect x="157.24" y="167.40" width="11.90" height="6.10" fill="#5c3915" stroke="#3a2006" stroke-width="0.6"/>
<rect x="171.10" y="167.40" width="11.90" height="6.10" fill="#5c3915" stroke="#3a2006" stroke-width="0.6"/>
<rect x="184.96" y="167.40" width="11.90" height="6.10" fill="#5c3915" stroke="#3a2006" stroke-width="0.6"/>
<rect x="198.82" y="167.40" width="11.90" height="6.10" fill="#5c3915" stroke="#3a2006" stroke-width="0.6"/>
<rect x="212.68" y="167.40" width="11.90" height="6.10" fill="#5c3915" stroke="#3a2006" stroke-width="0.6"/>
<rect x="226.24" y="167.10" width="12.5" height="6.7" fill="#dfdee2"/>
<rect x="240.40" y="167.40" width="11.90" height="6.10" fill="#5c3915" stroke="#3a2006" stroke-width="0.6"/>
<rect x="254.26" y="167.40" width="11.90" height="6.10" fill="#5c3915" stroke="#3a2006" stroke-width="0.6"/>
<rect x="268.12" y="167.40" width="11.90" height="6.10" fill="#5c3915" stroke="#3a2006" stroke-width="0.6"/>
<rect x="281.68" y="167.10" width="12.5" height="6.7" fill="#dfdee2"/>
<rect x="295.84" y="167.40" width="11.90" height="6.10" fill="#5c3915" stroke="#3a2006" stroke-width="0.6"/>
<rect x="309.70" y="167.40" width="11.90" height="6.10" fill="#5c3915" stroke="#3a2006" stroke-width="0.6"/>
<rect x="323.56" y="167.40" width="11.90" height="6.10" fill="#5c3915" stroke="#3a2006" stroke-width="0.6"/>
<rect x="337.42" y="167.40" width="11.90" height="6.10" fill="#5c3915" stroke="#3a2006" stroke-width="0.6"/>
<rect x="351.28" y="167.40" width="11.90" height="6.10" fill="#ae102e" stroke="#7e061c" stroke-width="0.6"/>
<rect x="365.14" y="167.40" width="11.90" height="6.10" fill="#5c3915" stroke="#3a2006" stroke-width="0.6"/>
<rect x="379.00" y="167.40" width="11.90" height="6.10" fill="#5c3915" stroke="#3a2006" stroke-width="0.6"/>
<text x="98.3" y="172.65" font-size="6.4" text-anchor="end" fill="#1e1e1e" font-style="italic">CDKN2A</text>
<rect x="101.50" y="175.10" width="12.5" height="6.7" fill="#dfdee2"/>
<rect x="115.66" y="175.40" width="11.90" height="6.10" fill="#5c3915" stroke="#3a2006" stroke-width="0.6"/>
<rect x="129.22" y="175.10" width="12.5" height="6.7" fill="#dfdee2"/>
<rect x="143.38" y="175.40" width="11.90" height="6.10" fill="#bd7424" stroke="#92540c" stroke-width="0.6"/>
<rect x="156.94" y="175.10" width="12.5" height="6.7" fill="#dfdee2"/>
<rect x="170.80" y="175.10" width="12.5" height="6.7" fill="#dfdee2"/>
<rect x="184.66" y="175.10" width="12.5" height="6.7" fill="#dfdee2"/>
<rect x="198.52" y="175.10" width="12.5" height="6.7" fill="#dfdee2"/>
<rect x="212.38" y="175.10" width="12.5" height="6.7" fill="#dfdee2"/>
<rect x="226.24" y="175.10" width="12.5" height="6.7" fill="#dfdee2"/>
<rect x="240.10" y="175.10" width="12.5" height="6.7" fill="#dfdee2"/>
<rect x="253.96" y="175.10" width="12.5" height="6.7" fill="#dfdee2"/>
<rect x="267.82" y="175.10" width="12.5" height="6.7" fill="#dfdee2"/>
<rect x="281.98" y="175.40" width="11.90" height="6.10" fill="#2d5191" stroke="#173466" stroke-width="0.6"/>
<rect x="295.54" y="175.10" width="12.5" height="6.7" fill="#dfdee2"/>
<rect x="309.40" y="175.10" width="12.5" height="6.7" fill="#dfdee2"/>
<rect x="323.26" y="175.10" width="12.5" height="6.7" fill="#dfdee2"/>
<rect x="337.12" y="175.10" width="12.5" height="6.7" fill="#dfdee2"/>
<rect x="350.98" y="175.10" width="12.5" height="6.7" fill="#dfdee2"/>
<rect x="364.84" y="175.10" width="12.5" height="6.7" fill="#dfdee2"/>
<rect x="379.00" y="175.40" width="11.90" height="6.10" fill="#2d5191" stroke="#173466" stroke-width="0.6"/>
<text x="98.3" y="180.65" font-size="6.4" text-anchor="end" fill="#1e1e1e" font-style="italic">TP53</text>
<rect x="101.50" y="183.10" width="12.5" height="6.7" fill="#c7c7ca"/>
<rect x="115.66" y="183.40" width="11.90" height="6.10" fill="#2d5191" stroke="#173466" stroke-width="0.6"/>
<rect x="129.22" y="183.10" width="12.5" height="6.7" fill="#c7c7ca"/>
<rect x="143.38" y="183.40" width="11.90" height="6.10" fill="#54276b" stroke="#300a45" stroke-width="0.6"/>
<rect x="157.24" y="183.40" width="11.90" height="6.10" fill="#54276b" stroke="#300a45" stroke-width="0.6"/>
<rect x="170.80" y="183.10" width="12.5" height="6.7" fill="#c7c7ca"/>
<rect x="184.96" y="183.40" width="11.90" height="6.10" fill="#2d5191" stroke="#173466" stroke-width="0.6"/>
<rect x="198.82" y="183.40" width="11.90" height="6.10" fill="#54276b" stroke="#300a45" stroke-width="0.6"/>
<rect x="212.68" y="183.40" width="11.90" height="6.10" fill="#2d5191" stroke="#173466" stroke-width="0.6"/>
<rect x="226.54" y="183.40" width="11.90" height="6.10" fill="#d4907f" stroke="#b06e5e" stroke-width="0.6"/>
<rect x="240.10" y="183.10" width="12.5" height="6.7" fill="#c7c7ca"/>
<rect x="254.26" y="183.40" width="11.90" height="6.10" fill="#2d5191" stroke="#173466" stroke-width="0.6"/>
<rect x="268.12" y="183.40" width="11.90" height="6.10" fill="#d4907f" stroke="#b06e5e" stroke-width="0.6"/>
<rect x="281.68" y="183.10" width="12.5" height="6.7" fill="#c7c7ca"/>
<rect x="295.84" y="183.40" width="11.90" height="6.10" fill="#54276b" stroke="#300a45" stroke-width="0.6"/>
<rect x="309.40" y="183.10" width="12.5" height="6.7" fill="#c7c7ca"/>
<rect x="323.56" y="183.40" width="11.90" height="6.10" fill="#2d5191" stroke="#173466" stroke-width="0.6"/>
<rect x="337.12" y="183.10" width="12.5" height="6.7" fill="#c7c7ca"/>
<rect x="350.98" y="183.10" width="12.5" height="6.7" fill="#c7c7ca"/>
<rect x="364.84" y="183.10" width="12.5" height="6.7" fill="#c7c7ca"/>
<rect x="378.70" y="183.10" width="12.5" height="6.7" fill="#c7c7ca"/>
<text x="98.3" y="188.65" font-size="6.4" text-anchor="end" fill="#1e1e1e" font-style="italic">TBL1XR1</text>
<rect x="101.50" y="191.10" width="12.5" height="6.7" fill="#c7c7ca"/>
<rect x="115.36" y="191.10" width="12.5" height="6.7" fill="#c7c7ca"/>
<rect x="129.22" y="191.10" width="12.5" height="6.7" fill="#c7c7ca"/>
<rect x="143.08" y="191.10" width="12.5" height="6.7" fill="#c7c7ca"/>
<rect x="156.94" y="191.10" width="12.5" height="6.7" fill="#c7c7ca"/>
<rect x="170.80" y="191.10" width="12.5" height="6.7" fill="#c7c7ca"/>
<rect x="184.96" y="191.40" width="11.90" height="6.10" fill="#ae102e" stroke="#7e061c" stroke-width="0.6"/>
<rect x="198.52" y="191.10" width="12.5" height="6.7" fill="#c7c7ca"/>
<rect x="212.38" y="191.10" width="12.5" height="6.7" fill="#c7c7ca"/>
<rect x="226.54" y="191.40" width="11.90" height="6.10" fill="#ae102e" stroke="#7e061c" stroke-width="0.6"/>
<rect x="240.10" y="191.10" width="12.5" height="6.7" fill="#c7c7ca"/>
<rect x="253.96" y="191.10" width="12.5" height="6.7" fill="#c7c7ca"/>
<rect x="267.82" y="191.10" width="12.5" height="6.7" fill="#c7c7ca"/>
<rect x="281.68" y="191.10" width="12.5" height="6.7" fill="#c7c7ca"/>
<rect x="295.54" y="191.10" width="12.5" height="6.7" fill="#c7c7ca"/>
<rect x="309.40" y="191.10" width="12.5" height="6.7" fill="#c7c7ca"/>
<rect x="323.26" y="191.10" width="12.5" height="6.7" fill="#c7c7ca"/>
<rect x="337.12" y="191.10" width="12.5" height="6.7" fill="#c7c7ca"/>
<rect x="350.98" y="191.10" width="12.5" height="6.7" fill="#c7c7ca"/>
<rect x="364.84" y="191.10" width="12.5" height="6.7" fill="#c7c7ca"/>
<rect x="378.70" y="191.10" width="12.5" height="6.7" fill="#c7c7ca"/>
<text x="98.3" y="196.65" font-size="6.4" text-anchor="end" fill="#1e1e1e" font-style="italic">S1PR1</text>
<rect x="101.50" y="199.10" width="12.5" height="6.7" fill="#c7c7ca"/>
<rect x="115.36" y="199.10" width="12.5" height="6.7" fill="#c7c7ca"/>
<rect x="129.22" y="199.10" width="12.5" height="6.7" fill="#c7c7ca"/>
<rect x="143.38" y="199.40" width="11.90" height="6.10" fill="#5c3915" stroke="#3a2006" stroke-width="0.6"/>
<rect x="157.24" y="199.40" width="11.90" height="6.10" fill="#d4907f" stroke="#b06e5e" stroke-width="0.6"/>
<rect x="170.80" y="199.10" width="12.5" height="6.7" fill="#c7c7ca"/>
<rect x="184.66" y="199.10" width="12.5" height="6.7" fill="#c7c7ca"/>
<rect x="198.52" y="199.10" width="12.5" height="6.7" fill="#c7c7ca"/>
<rect x="212.38" y="199.10" width="12.5" height="6.7" fill="#c7c7ca"/>
<rect x="226.24" y="199.10" width="12.5" height="6.7" fill="#c7c7ca"/>
<rect x="240.10" y="199.10" width="12.5" height="6.7" fill="#c7c7ca"/>
<rect x="254.26" y="199.40" width="11.90" height="6.10" fill="#ae102e" stroke="#7e061c" stroke-width="0.6"/>
<rect x="267.82" y="199.10" width="12.5" height="6.7" fill="#c7c7ca"/>
<rect x="281.68" y="199.10" width="12.5" height="6.7" fill="#c7c7ca"/>
<rect x="295.54" y="199.10" width="12.5" height="6.7" fill="#c7c7ca"/>
<rect x="309.40" y="199.10" width="12.5" height="6.7" fill="#c7c7ca"/>
<rect x="323.26" y="199.10" width="12.5" height="6.7" fill="#c7c7ca"/>
<rect x="337.42" y="199.40" width="11.90" height="6.10" fill="#5c3915" stroke="#3a2006" stroke-width="0.6"/>
<rect x="350.98" y="199.10" width="12.5" height="6.7" fill="#c7c7ca"/>
<rect x="364.84" y="199.10" width="12.5" height="6.7" fill="#c7c7ca"/>
<rect x="378.70" y="199.10" width="12.5" height="6.7" fill="#c7c7ca"/>
<text x="98.3" y="204.65" font-size="6.4" text-anchor="end" fill="#1e1e1e" font-style="italic">TMEM30A</text>
<rect x="101.50" y="207.10" width="12.5" height="6.7" fill="#dfdee2"/>
<rect x="115.36" y="207.10" width="12.5" height="6.7" fill="#dfdee2"/>
<rect x="129.52" y="207.40" width="11.90" height="6.10" fill="#5c3915" stroke="#3a2006" stroke-width="0.6"/>
<rect x="143.08" y="207.10" width="12.5" height="6.7" fill="#dfdee2"/>
<rect x="156.94" y="207.10" width="12.5" height="6.7" fill="#dfdee2"/>
<rect x="170.80" y="207.10" width="12.5" height="6.7" fill="#dfdee2"/>
<rect x="184.66" y="207.10" width="12.5" height="6.7" fill="#dfdee2"/>
<rect x="198.52" y="207.10" width="12.5" height="6.7" fill="#dfdee2"/>
<rect x="212.38" y="207.10" width="12.5" height="6.7" fill="#dfdee2"/>
<rect x="226.24" y="207.10" width="12.5" height="6.7" fill="#dfdee2"/>
<rect x="240.10" y="207.10" width="12.5" height="6.7" fill="#dfdee2"/>
<rect x="254.26" y="207.40" width="11.90" height="6.10" fill="#5c3915" stroke="#3a2006" stroke-width="0.6"/>
<rect x="268.12" y="207.40" width="11.90" height="6.10" fill="#5c3915" stroke="#3a2006" stroke-width="0.6"/>
<rect x="281.98" y="207.40" width="11.90" height="6.10" fill="#5c3915" stroke="#3a2006" stroke-width="0.6"/>
<rect x="295.54" y="207.10" width="12.5" height="6.7" fill="#dfdee2"/>
<rect x="309.70" y="207.40" width="11.90" height="6.10" fill="#5c3915" stroke="#3a2006" stroke-width="0.6"/>
<rect x="323.56" y="207.40" width="11.90" height="6.10" fill="#5c3915" stroke="#3a2006" stroke-width="0.6"/>
<rect x="337.42" y="207.40" width="11.90" height="6.10" fill="#5c3915" stroke="#3a2006" stroke-width="0.6"/>
<rect x="351.28" y="207.40" width="11.90" height="6.10" fill="#5c3915" stroke="#3a2006" stroke-width="0.6"/>
<rect x="365.14" y="207.40" width="11.90" height="6.10" fill="#5c3915" stroke="#3a2006" stroke-width="0.6"/>
<rect x="378.70" y="207.10" width="12.5" height="6.7" fill="#dfdee2"/>
<text x="98.3" y="212.65" font-size="6.4" text-anchor="end" fill="#1e1e1e">6q_del</text>
<rect x="101.80" y="215.40" width="11.90" height="6.10" fill="#336b4e" stroke="#1a4a32" stroke-width="0.6"/>
<rect x="115.36" y="215.10" width="12.5" height="6.7" fill="#dfdee2"/>
<rect x="129.22" y="215.10" width="12.5" height="6.7" fill="#dfdee2"/>
<rect x="143.38" y="215.40" width="11.90" height="6.10" fill="#336b4e" stroke="#1a4a32" stroke-width="0.6"/>
<rect x="156.94" y="215.10" width="12.5" height="6.7" fill="#dfdee2"/>
<rect x="171.10" y="215.40" width="11.90" height="6.10" fill="#336b4e" stroke="#1a4a32" stroke-width="0.6"/>
<rect x="184.66" y="215.10" width="12.5" height="6.7" fill="#dfdee2"/>
<rect x="198.52" y="215.10" width="12.5" height="6.7" fill="#dfdee2"/>
<rect x="212.68" y="215.40" width="11.90" height="6.10" fill="#336b4e" stroke="#1a4a32" stroke-width="0.6"/>
<rect x="226.24" y="215.10" width="12.5" height="6.7" fill="#dfdee2"/>
<rect x="240.40" y="215.40" width="11.90" height="6.10" fill="#336b4e" stroke="#1a4a32" stroke-width="0.6"/>
<rect x="253.96" y="215.10" width="12.5" height="6.7" fill="#dfdee2"/>
<rect x="267.82" y="215.10" width="12.5" height="6.7" fill="#dfdee2"/>
<rect x="281.68" y="215.10" width="12.5" height="6.7" fill="#dfdee2"/>
<rect x="295.54" y="215.10" width="12.5" height="6.7" fill="#dfdee2"/>
<rect x="309.70" y="215.40" width="11.90" height="6.10" fill="#336b4e" stroke="#1a4a32" stroke-width="0.6"/>
<rect x="323.26" y="215.10" width="12.5" height="6.7" fill="#dfdee2"/>
<rect x="337.12" y="215.10" width="12.5" height="6.7" fill="#dfdee2"/>
<rect x="350.98" y="215.10" width="12.5" height="6.7" fill="#dfdee2"/>
<rect x="364.84" y="215.10" width="12.5" height="6.7" fill="#dfdee2"/>
<rect x="379.00" y="215.40" width="11.90" height="6.10" fill="#336b4e" stroke="#1a4a32" stroke-width="0.6"/>
<text x="98.3" y="220.65" font-size="6.4" text-anchor="end" fill="#1e1e1e">19q_amp</text>
<rect x="101.50" y="223.10" width="12.5" height="6.7" fill="#dfdee2"/>
<rect x="115.36" y="223.10" width="12.5" height="6.7" fill="#dfdee2"/>
<rect x="129.52" y="223.40" width="11.90" height="6.10" fill="#2b4b8e" stroke="#17306c" stroke-width="0.6"/>
<rect x="143.08" y="223.10" width="12.5" height="6.7" fill="#dfdee2"/>
<rect x="156.94" y="223.10" width="12.5" height="6.7" fill="#dfdee2"/>
<rect x="171.10" y="223.40" width="11.90" height="6.10" fill="#2b4b8e" stroke="#17306c" stroke-width="0.6"/>
<rect x="184.66" y="223.10" width="12.5" height="6.7" fill="#dfdee2"/>
<rect x="198.52" y="223.10" width="12.5" height="6.7" fill="#dfdee2"/>
<rect x="212.38" y="223.10" width="12.5" height="6.7" fill="#dfdee2"/>
<rect x="226.24" y="223.10" width="12.5" height="6.7" fill="#dfdee2"/>
<rect x="240.40" y="223.40" width="11.90" height="6.10" fill="#2b4b8e" stroke="#17306c" stroke-width="0.6"/>
<rect x="253.96" y="223.10" width="12.5" height="6.7" fill="#dfdee2"/>
<rect x="267.82" y="223.10" width="12.5" height="6.7" fill="#dfdee2"/>
<rect x="281.68" y="223.10" width="12.5" height="6.7" fill="#dfdee2"/>
<rect x="295.54" y="223.10" width="12.5" height="6.7" fill="#dfdee2"/>
<rect x="309.70" y="223.40" width="11.90" height="6.10" fill="#2b4b8e" stroke="#17306c" stroke-width="0.6"/>
<rect x="323.56" y="223.40" width="11.90" height="6.10" fill="#2b4b8e" stroke="#17306c" stroke-width="0.6"/>
<rect x="337.42" y="223.40" width="11.90" height="6.10" fill="#2b4b8e" stroke="#17306c" stroke-width="0.6"/>
<rect x="350.98" y="223.10" width="12.5" height="6.7" fill="#dfdee2"/>
<rect x="364.84" y="223.10" width="12.5" height="6.7" fill="#dfdee2"/>
<rect x="378.70" y="223.10" width="12.5" height="6.7" fill="#dfdee2"/>
<text x="98.3" y="228.65" font-size="6.4" text-anchor="end" fill="#1e1e1e">6p_UPD</text>
<rect x="101.80" y="231.40" width="11.90" height="6.10" fill="#336b4e" stroke="#1a4a32" stroke-width="0.6"/>
<rect x="115.36" y="231.10" width="12.5" height="6.7" fill="#dfdee2"/>
<rect x="129.22" y="231.10" width="12.5" height="6.7" fill="#dfdee2"/>
<rect x="143.08" y="231.10" width="12.5" height="6.7" fill="#dfdee2"/>
<rect x="157.24" y="231.40" width="11.90" height="6.10" fill="#336b4e" stroke="#1a4a32" stroke-width="0.6"/>
<rect x="171.10" y="231.40" width="11.90" height="6.10" fill="#336b4e" stroke="#1a4a32" stroke-width="0.6"/>
<rect x="184.96" y="231.40" width="11.90" height="6.10" fill="#336b4e" stroke="#1a4a32" stroke-width="0.6"/>
<rect x="198.52" y="231.10" width="12.5" height="6.7" fill="#dfdee2"/>
<rect x="212.38" y="231.10" width="12.5" height="6.7" fill="#dfdee2"/>
<rect x="226.54" y="231.40" width="11.90" height="6.10" fill="#336b4e" stroke="#1a4a32" stroke-width="0.6"/>
<rect x="240.10" y="231.10" width="12.5" height="6.7" fill="#dfdee2"/>
<rect x="253.96" y="231.10" width="12.5" height="6.7" fill="#dfdee2"/>
<rect x="267.82" y="231.10" width="12.5" height="6.7" fill="#dfdee2"/>
<rect x="281.68" y="231.10" width="12.5" height="6.7" fill="#dfdee2"/>
<rect x="295.54" y="231.10" width="12.5" height="6.7" fill="#dfdee2"/>
<rect x="309.40" y="231.10" width="12.5" height="6.7" fill="#dfdee2"/>
<rect x="323.26" y="231.10" width="12.5" height="6.7" fill="#dfdee2"/>
<rect x="337.42" y="231.40" width="11.90" height="6.10" fill="#336b4e" stroke="#1a4a32" stroke-width="0.6"/>
<rect x="350.98" y="231.10" width="12.5" height="6.7" fill="#dfdee2"/>
<rect x="364.84" y="231.10" width="12.5" height="6.7" fill="#dfdee2"/>
<rect x="378.70" y="231.10" width="12.5" height="6.7" fill="#dfdee2"/>
<text x="98.3" y="236.65" font-size="6.4" text-anchor="end" fill="#1e1e1e">18_amp</text>
<rect x="101.50" y="239.10" width="12.5" height="6.7" fill="#dfdee2"/>
<rect x="115.36" y="239.10" width="12.5" height="6.7" fill="#dfdee2"/>
<rect x="129.22" y="239.10" width="12.5" height="6.7" fill="#dfdee2"/>
<rect x="143.08" y="239.10" width="12.5" height="6.7" fill="#dfdee2"/>
<rect x="156.94" y="239.10" width="12.5" height="6.7" fill="#dfdee2"/>
<rect x="170.80" y="239.10" width="12.5" height="6.7" fill="#dfdee2"/>
<rect x="184.66" y="239.10" width="12.5" height="6.7" fill="#dfdee2"/>
<rect x="198.82" y="239.40" width="11.90" height="6.10" fill="#336b4e" stroke="#1a4a32" stroke-width="0.6"/>
<rect x="212.38" y="239.10" width="12.5" height="6.7" fill="#dfdee2"/>
<rect x="226.24" y="239.10" width="12.5" height="6.7" fill="#dfdee2"/>
<rect x="240.40" y="239.40" width="11.90" height="6.10" fill="#336b4e" stroke="#1a4a32" stroke-width="0.6"/>
<rect x="253.96" y="239.10" width="12.5" height="6.7" fill="#dfdee2"/>
<rect x="268.12" y="239.40" width="11.90" height="6.10" fill="#336b4e" stroke="#1a4a32" stroke-width="0.6"/>
<rect x="281.68" y="239.10" width="12.5" height="6.7" fill="#dfdee2"/>
<rect x="295.54" y="239.10" width="12.5" height="6.7" fill="#dfdee2"/>
<rect x="309.40" y="239.10" width="12.5" height="6.7" fill="#dfdee2"/>
<rect x="323.56" y="239.40" width="11.90" height="6.10" fill="#336b4e" stroke="#1a4a32" stroke-width="0.6"/>
<rect x="337.12" y="239.10" width="12.5" height="6.7" fill="#dfdee2"/>
<rect x="350.98" y="239.10" width="12.5" height="6.7" fill="#dfdee2"/>
<rect x="364.84" y="239.10" width="12.5" height="6.7" fill="#dfdee2"/>
<rect x="379.00" y="239.40" width="11.90" height="6.10" fill="#336b4e" stroke="#1a4a32" stroke-width="0.6"/>
<text x="98.3" y="244.65" font-size="6.4" text-anchor="end" fill="#1e1e1e">1q_amp</text>
<rect x="101.50" y="247.10" width="12.5" height="6.7" fill="#dfdee2"/>
<rect x="115.36" y="247.10" width="12.5" height="6.7" fill="#dfdee2"/>
<rect x="129.22" y="247.10" width="12.5" height="6.7" fill="#dfdee2"/>
<rect x="143.08" y="247.10" width="12.5" height="6.7" fill="#dfdee2"/>
<rect x="157.24" y="247.40" width="11.90" height="6.10" fill="#336b4e" stroke="#1a4a32" stroke-width="0.6"/>
<rect x="170.80" y="247.10" width="12.5" height="6.7" fill="#dfdee2"/>
<rect x="184.96" y="247.40" width="11.90" height="6.10" fill="#336b4e" stroke="#1a4a32" stroke-width="0.6"/>
<rect x="198.82" y="247.40" width="11.90" height="6.10" fill="#336b4e" stroke="#1a4a32" stroke-width="0.6"/>
<rect x="212.38" y="247.10" width="12.5" height="6.7" fill="#dfdee2"/>
<rect x="226.24" y="247.10" width="12.5" height="6.7" fill="#dfdee2"/>
<rect x="240.10" y="247.10" width="12.5" height="6.7" fill="#dfdee2"/>
<rect x="253.96" y="247.10" width="12.5" height="6.7" fill="#dfdee2"/>
<rect x="267.82" y="247.10" width="12.5" height="6.7" fill="#dfdee2"/>
<rect x="281.68" y="247.10" width="12.5" height="6.7" fill="#dfdee2"/>
<rect x="295.54" y="247.10" width="12.5" height="6.7" fill="#dfdee2"/>
<rect x="309.70" y="247.40" width="11.90" height="6.10" fill="#336b4e" stroke="#1a4a32" stroke-width="0.6"/>
<rect x="323.26" y="247.10" width="12.5" height="6.7" fill="#dfdee2"/>
<rect x="337.12" y="247.10" width="12.5" height="6.7" fill="#dfdee2"/>
<rect x="350.98" y="247.10" width="12.5" height="6.7" fill="#dfdee2"/>
<rect x="365.14" y="247.40" width="11.90" height="6.10" fill="#336b4e" stroke="#1a4a32" stroke-width="0.6"/>
<rect x="378.70" y="247.10" width="12.5" height="6.7" fill="#dfdee2"/>
<text x="98.3" y="252.65" font-size="6.4" text-anchor="end" fill="#1e1e1e">21q_amp</text>
<rect x="101.50" y="255.10" width="12.5" height="6.7" fill="#dfdee2"/>
<rect x="115.36" y="255.10" width="12.5" height="6.7" fill="#dfdee2"/>
<rect x="129.22" y="255.10" width="12.5" height="6.7" fill="#dfdee2"/>
<rect x="143.38" y="255.40" width="11.90" height="6.10" fill="#5c3915" stroke="#3a2006" stroke-width="0.6"/>
<rect x="156.94" y="255.10" width="12.5" height="6.7" fill="#dfdee2"/>
<rect x="170.80" y="255.10" width="12.5" height="6.7" fill="#dfdee2"/>
<rect x="184.66" y="255.10" width="12.5" height="6.7" fill="#dfdee2"/>
<rect x="198.52" y="255.10" width="12.5" height="6.7" fill="#dfdee2"/>
<rect x="212.38" y="255.10" width="12.5" height="6.7" fill="#dfdee2"/>
<rect x="226.24" y="255.10" width="12.5" height="6.7" fill="#dfdee2"/>
<rect x="240.10" y="255.10" width="12.5" height="6.7" fill="#dfdee2"/>
<rect x="253.96" y="255.10" width="12.5" height="6.7" fill="#dfdee2"/>
<rect x="267.82" y="255.10" width="12.5" height="6.7" fill="#dfdee2"/>
<rect x="281.68" y="255.10" width="12.5" height="6.7" fill="#dfdee2"/>
<rect x="295.54" y="255.10" width="12.5" height="6.7" fill="#dfdee2"/>
<rect x="309.70" y="255.40" width="11.90" height="6.10" fill="#5c3915" stroke="#3a2006" stroke-width="0.6"/>
<rect x="323.56" y="255.40" width="11.90" height="6.10" fill="#5c3915" stroke="#3a2006" stroke-width="0.6"/>
<rect x="337.12" y="255.10" width="12.5" height="6.7" fill="#dfdee2"/>
<rect x="350.98" y="255.10" width="12.5" height="6.7" fill="#dfdee2"/>
<rect x="364.84" y="255.10" width="12.5" height="6.7" fill="#dfdee2"/>
<rect x="379.00" y="255.40" width="11.90" height="6.10" fill="#5c3915" stroke="#3a2006" stroke-width="0.6"/>
<text x="98.3" y="260.65" font-size="6.4" text-anchor="end" fill="#1e1e1e">19p_del</text>
<rect x="101.50" y="263.10" width="12.5" height="6.7" fill="#dfdee2"/>
<rect x="115.36" y="263.10" width="12.5" height="6.7" fill="#dfdee2"/>
<rect x="129.22" y="263.10" width="12.5" height="6.7" fill="#dfdee2"/>
<rect x="143.38" y="263.40" width="11.90" height="6.10" fill="#5c3915" stroke="#3a2006" stroke-width="0.6"/>
<rect x="156.94" y="263.10" width="12.5" height="6.7" fill="#dfdee2"/>
<rect x="170.80" y="263.10" width="12.5" height="6.7" fill="#dfdee2"/>
<rect x="184.66" y="263.10" width="12.5" height="6.7" fill="#dfdee2"/>
<rect x="198.52" y="263.10" width="12.5" height="6.7" fill="#dfdee2"/>
<rect x="212.38" y="263.10" width="12.5" height="6.7" fill="#dfdee2"/>
<rect x="226.24" y="263.10" width="12.5" height="6.7" fill="#dfdee2"/>
<rect x="240.10" y="263.10" width="12.5" height="6.7" fill="#dfdee2"/>
<rect x="253.96" y="263.10" width="12.5" height="6.7" fill="#dfdee2"/>
<rect x="267.82" y="263.10" width="12.5" height="6.7" fill="#dfdee2"/>
<rect x="281.98" y="263.40" width="11.90" height="6.10" fill="#5c3915" stroke="#3a2006" stroke-width="0.6"/>
<rect x="295.54" y="263.10" width="12.5" height="6.7" fill="#dfdee2"/>
<rect x="309.70" y="263.40" width="11.90" height="6.10" fill="#5c3915" stroke="#3a2006" stroke-width="0.6"/>
<rect x="323.26" y="263.10" width="12.5" height="6.7" fill="#dfdee2"/>
<rect x="337.12" y="263.10" width="12.5" height="6.7" fill="#dfdee2"/>
<rect x="350.98" y="263.10" width="12.5" height="6.7" fill="#dfdee2"/>
<rect x="364.84" y="263.10" width="12.5" height="6.7" fill="#dfdee2"/>
<rect x="379.00" y="263.40" width="11.90" height="6.10" fill="#5c3915" stroke="#3a2006" stroke-width="0.6"/>
<text x="98.3" y="268.65" font-size="6.4" text-anchor="end" fill="#1e1e1e">8p_del</text>
<rect x="101.50" y="271.10" width="12.5" height="6.7" fill="#dfdee2"/>
<rect x="115.36" y="271.10" width="12.5" height="6.7" fill="#dfdee2"/>
<rect x="129.22" y="271.10" width="12.5" height="6.7" fill="#dfdee2"/>
<rect x="143.08" y="271.10" width="12.5" height="6.7" fill="#dfdee2"/>
<rect x="156.94" y="271.10" width="12.5" height="6.7" fill="#dfdee2"/>
<rect x="170.80" y="271.10" width="12.5" height="6.7" fill="#dfdee2"/>
<rect x="184.66" y="271.10" width="12.5" height="6.7" fill="#dfdee2"/>
<rect x="198.52" y="271.10" width="12.5" height="6.7" fill="#dfdee2"/>
<rect x="212.68" y="271.40" width="11.90" height="6.10" fill="#336b4e" stroke="#1a4a32" stroke-width="0.6"/>
<rect x="226.24" y="271.10" width="12.5" height="6.7" fill="#dfdee2"/>
<rect x="240.10" y="271.10" width="12.5" height="6.7" fill="#dfdee2"/>
<rect x="254.26" y="271.40" width="11.90" height="6.10" fill="#336b4e" stroke="#1a4a32" stroke-width="0.6"/>
<rect x="267.82" y="271.10" width="12.5" height="6.7" fill="#dfdee2"/>
<rect x="281.68" y="271.10" width="12.5" height="6.7" fill="#dfdee2"/>
<rect x="295.54" y="271.10" width="12.5" height="6.7" fill="#dfdee2"/>
<rect x="309.70" y="271.40" width="11.90" height="6.10" fill="#336b4e" stroke="#1a4a32" stroke-width="0.6"/>
<rect x="323.26" y="271.10" width="12.5" height="6.7" fill="#dfdee2"/>
<rect x="337.12" y="271.10" width="12.5" height="6.7" fill="#dfdee2"/>
<rect x="350.98" y="271.10" width="12.5" height="6.7" fill="#dfdee2"/>
<rect x="364.84" y="271.10" width="12.5" height="6.7" fill="#dfdee2"/>
<rect x="379.00" y="271.40" width="11.90" height="6.10" fill="#336b4e" stroke="#1a4a32" stroke-width="0.6"/>
<text x="98.3" y="276.65" font-size="6.4" text-anchor="end" fill="#1e1e1e">9p_amp</text>
<rect x="101.50" y="279.10" width="12.5" height="6.7" fill="#dfdee2"/>
<rect x="115.36" y="279.10" width="12.5" height="6.7" fill="#dfdee2"/>
<rect x="129.22" y="279.10" width="12.5" height="6.7" fill="#dfdee2"/>
<rect x="143.08" y="279.10" width="12.5" height="6.7" fill="#dfdee2"/>
<rect x="157.24" y="279.40" width="11.90" height="6.10" fill="#2b4b8e" stroke="#17306c" stroke-width="0.6"/>
<rect x="170.80" y="279.10" width="12.5" height="6.7" fill="#dfdee2"/>
<rect x="184.96" y="279.40" width="11.90" height="6.10" fill="#2b4b8e" stroke="#17306c" stroke-width="0.6"/>
<rect x="198.52" y="279.10" width="12.5" height="6.7" fill="#dfdee2"/>
<rect x="212.38" y="279.10" width="12.5" height="6.7" fill="#dfdee2"/>
<rect x="226.24" y="279.10" width="12.5" height="6.7" fill="#dfdee2"/>
<rect x="240.40" y="279.40" width="11.90" height="6.10" fill="#2b4b8e" stroke="#17306c" stroke-width="0.6"/>
<rect x="253.96" y="279.10" width="12.5" height="6.7" fill="#dfdee2"/>
<rect x="267.82" y="279.10" width="12.5" height="6.7" fill="#dfdee2"/>
<rect x="281.68" y="279.10" width="12.5" height="6.7" fill="#dfdee2"/>
<rect x="295.54" y="279.10" width="12.5" height="6.7" fill="#dfdee2"/>
<rect x="309.40" y="279.10" width="12.5" height="6.7" fill="#dfdee2"/>
<rect x="323.26" y="279.10" width="12.5" height="6.7" fill="#dfdee2"/>
<rect x="337.12" y="279.10" width="12.5" height="6.7" fill="#dfdee2"/>
<rect x="351.28" y="279.40" width="11.90" height="6.10" fill="#2b4b8e" stroke="#17306c" stroke-width="0.6"/>
<rect x="364.84" y="279.10" width="12.5" height="6.7" fill="#dfdee2"/>
<rect x="378.70" y="279.10" width="12.5" height="6.7" fill="#dfdee2"/>
<text x="98.3" y="284.65" font-size="6.4" text-anchor="end" fill="#1e1e1e">9p_UPD</text>
<rect x="394.6" y="96.75" width="3.7" height="3.7" fill="#2d5191"/>
<text x="401.5" y="101.00" font-size="6.6" fill="#1e1e1e">Missense</text>
<rect x="394.6" y="107.95" width="3.7" height="3.7" fill="#54276b"/>
<text x="401.5" y="112.20" font-size="6.6" fill="#1e1e1e">Multiple</text>
<rect x="394.6" y="119.15" width="3.7" height="3.7" fill="#e5961c"/>
<text x="401.5" y="123.40" font-size="6.6" fill="#1e1e1e">Frameshift indel</text>
<rect x="394.6" y="130.35" width="3.7" height="3.7" fill="#b5c98a"/>
<text x="401.5" y="134.60" font-size="6.6" fill="#1e1e1e">Synonymous</text>
<rect x="394.6" y="141.55" width="3.7" height="3.7" fill="#d4907f"/>
<text x="401.5" y="145.80" font-size="6.6" fill="#1e1e1e">Splice site</text>
<rect x="394.6" y="152.75" width="3.7" height="3.7" fill="#ae102e"/>
<text x="401.5" y="157.00" font-size="6.6" fill="#1e1e1e">Nonsense</text>
<rect x="394.6" y="163.95" width="3.7" height="3.7" fill="#67a73b"/>
<text x="401.5" y="168.20" font-size="6.6" fill="#1e1e1e">SV</text>
<rect x="394.6" y="175.15" width="3.7" height="3.7" fill="#bd7424"/>
<text x="401.5" y="179.40" font-size="6.6" fill="#1e1e1e">Inframe indel</text>
<rect x="394.6" y="186.35" width="3.7" height="3.7" fill="#336b4e"/>
<text x="401.5" y="190.60" font-size="6.6" fill="#1e1e1e">Amp</text>
<rect x="394.6" y="197.55" width="3.7" height="3.7" fill="#5c3915"/>
<text x="401.5" y="201.80" font-size="6.6" fill="#1e1e1e">Del</text>
<rect x="394.6" y="208.75" width="3.7" height="3.7" fill="#2b4b8e"/>
<text x="401.5" y="213.00" font-size="6.6" fill="#1e1e1e">UPD</text>
<text x="7.6" y="311.6" font-size="12.4" font-weight="bold" textLength="7.0" lengthAdjust="spacingAndGlyphs" fill="#000">B</text>
<rect x="41.15" y="344.15" width="10.4" height="207.95" fill="#4b5162"/>
<line x1="46.35" y1="552.1" x2="46.35" y2="555.4" stroke="#222" stroke-width="0.8"/>
<text transform="translate(48.85,557.6) rotate(-90)" font-size="6.3" font-style="italic" text-anchor="end" fill="#1e1e1e">PIM1</text>
<rect x="52.76" y="354.55" width="10.4" height="197.55" fill="#4b5162"/>
<line x1="57.96" y1="552.1" x2="57.96" y2="555.4" stroke="#222" stroke-width="0.8"/>
<text transform="translate(60.46,557.6) rotate(-90)" font-size="6.3" font-style="italic" text-anchor="end" fill="#1e1e1e">IGLL5</text>
<rect x="64.37" y="416.93" width="10.4" height="135.17" fill="#4b5162"/>
<line x1="69.57" y1="552.1" x2="69.57" y2="555.4" stroke="#222" stroke-width="0.8"/>
<text transform="translate(72.07,557.6) rotate(-90)" font-size="6.3" font-style="italic" text-anchor="end" fill="#1e1e1e">BTG1</text>
<rect x="75.98" y="416.93" width="10.4" height="135.17" fill="#4b5162"/>
<line x1="81.18" y1="552.1" x2="81.18" y2="555.4" stroke="#222" stroke-width="0.8"/>
<text transform="translate(83.68,557.6) rotate(-90)" font-size="6.3" font-style="italic" text-anchor="end" fill="#1e1e1e">ETV6</text>
<rect x="87.59" y="427.33" width="10.4" height="124.77" fill="#4b5162"/>
<line x1="92.79" y1="552.1" x2="92.79" y2="555.4" stroke="#222" stroke-width="0.8"/>
<text transform="translate(95.29,557.6) rotate(-90)" font-size="6.3" font-style="italic" text-anchor="end" fill="#1e1e1e">MPEG1</text>
<rect x="99.20" y="448.12" width="10.4" height="103.98" fill="#4b5162"/>
<line x1="104.40" y1="552.1" x2="104.40" y2="555.4" stroke="#222" stroke-width="0.8"/>
<text transform="translate(106.90,557.6) rotate(-90)" font-size="6.3" font-style="italic" text-anchor="end" fill="#1e1e1e">KLHL14</text>
<rect x="110.81" y="458.52" width="10.4" height="93.58" fill="#4b5162"/>
<line x1="116.01" y1="552.1" x2="116.01" y2="555.4" stroke="#222" stroke-width="0.8"/>
<text transform="translate(118.51,557.6) rotate(-90)" font-size="6.3" font-style="italic" text-anchor="end" fill="#1e1e1e">DTX1</text>
<rect x="122.42" y="458.52" width="10.4" height="93.58" fill="#4b5162"/>
<line x1="127.62" y1="552.1" x2="127.62" y2="555.4" stroke="#222" stroke-width="0.8"/>
<text transform="translate(130.12,557.6) rotate(-90)" font-size="6.3" font-style="italic" text-anchor="end" fill="#1e1e1e">HIST1H1E</text>
<rect x="134.03" y="468.92" width="10.4" height="83.18" fill="#4b5162"/>
<line x1="139.23" y1="552.1" x2="139.23" y2="555.4" stroke="#222" stroke-width="0.8"/>
<text transform="translate(141.73,557.6) rotate(-90)" font-size="6.3" font-style="italic" text-anchor="end" fill="#1e1e1e">HIST1H1C</text>
<rect x="145.64" y="468.92" width="10.4" height="83.18" fill="#4b5162"/>
<line x1="150.84" y1="552.1" x2="150.84" y2="555.4" stroke="#222" stroke-width="0.8"/>
<text transform="translate(153.34,557.6) rotate(-90)" font-size="6.3" font-style="italic" text-anchor="end" fill="#1e1e1e">TMSB4X</text>
<rect x="157.25" y="479.32" width="10.4" height="72.78" fill="#4b5162"/>
<line x1="162.45" y1="552.1" x2="162.45" y2="555.4" stroke="#222" stroke-width="0.8"/>
<text transform="translate(164.95,557.6) rotate(-90)" font-size="6.3" font-style="italic" text-anchor="end" fill="#1e1e1e">BTG2</text>
<rect x="168.86" y="479.32" width="10.4" height="72.78" fill="#4b5162"/>
<line x1="174.06" y1="552.1" x2="174.06" y2="555.4" stroke="#222" stroke-width="0.8"/>
<text transform="translate(176.56,557.6) rotate(-90)" font-size="6.3" font-style="italic" text-anchor="end" fill="#1e1e1e">GRHPR</text>
<rect x="180.47" y="489.71" width="10.4" height="62.39" fill="#4b5162"/>
<line x1="185.67" y1="552.1" x2="185.67" y2="555.4" stroke="#222" stroke-width="0.8"/>
<text transform="translate(188.17,557.6) rotate(-90)" font-size="6.3" font-style="italic" text-anchor="end" fill="#1e1e1e">TCL1A</text>
<rect x="192.08" y="489.71" width="10.4" height="62.39" fill="#4b5162"/>
<line x1="197.28" y1="552.1" x2="197.28" y2="555.4" stroke="#222" stroke-width="0.8"/>
<text transform="translate(199.78,557.6) rotate(-90)" font-size="6.3" font-style="italic" text-anchor="end" fill="#1e1e1e">FOXC1</text>
<rect x="203.69" y="489.71" width="10.4" height="62.39" fill="#4b5162"/>
<line x1="208.89" y1="552.1" x2="208.89" y2="555.4" stroke="#222" stroke-width="0.8"/>
<text transform="translate(211.39,557.6) rotate(-90)" font-size="6.3" font-style="italic" text-anchor="end" fill="#1e1e1e">BCL2</text>
<rect x="215.30" y="500.11" width="10.4" height="51.99" fill="#4b5162"/>
<line x1="220.50" y1="552.1" x2="220.50" y2="555.4" stroke="#222" stroke-width="0.8"/>
<text transform="translate(223.00,557.6) rotate(-90)" font-size="6.3" font-style="italic" text-anchor="end" fill="#1e1e1e">PIM2</text>
<line x1="39.3" y1="331.3" x2="39.3" y2="552.5" stroke="#111" stroke-width="1"/>
<line x1="38.8" y1="552.1" x2="227.7" y2="552.1" stroke="#111" stroke-width="1"/>
<line x1="36.6" y1="552.10" x2="39.3" y2="552.10" stroke="#222" stroke-width="1"/>
<text x="33.1" y="554.30" font-size="6.4" text-anchor="end" fill="#1e1e1e">0.00</text>
<line x1="36.6" y1="497.51" x2="39.3" y2="497.51" stroke="#222" stroke-width="1"/>
<text x="33.1" y="499.71" font-size="6.4" text-anchor="end" fill="#1e1e1e">0.25</text>
<line x1="36.6" y1="442.93" x2="39.3" y2="442.93" stroke="#222" stroke-width="1"/>
<text x="33.1" y="445.12" font-size="6.4" text-anchor="end" fill="#1e1e1e">0.50</text>
<line x1="36.6" y1="388.34" x2="39.3" y2="388.34" stroke="#222" stroke-width="1"/>
<text x="33.1" y="390.54" font-size="6.4" text-anchor="end" fill="#1e1e1e">0.75</text>
<line x1="36.6" y1="333.75" x2="39.3" y2="333.75" stroke="#222" stroke-width="1"/>
<text x="33.1" y="335.95" font-size="6.4" text-anchor="end" fill="#1e1e1e">1.00</text>
<text transform="translate(15.0,441.7) rotate(-90)" font-size="9.5" text-anchor="middle" textLength="34.3" lengthAdjust="spacingAndGlyphs" fill="#1e1e1e">Frequency</text>
<text x="242.8" y="311.5" font-size="12.2" font-weight="bold" textLength="8.2" lengthAdjust="spacingAndGlyphs" fill="#000">C</text>
<rect x="279.30" y="316.8" width="57.70" height="7.9" fill="#cacaca"/>
<text x="308.25" y="324.0" font-size="6.5" text-anchor="middle" fill="#1e1e1e">IVLBCL</text>
<rect x="282.70" y="328.60" width="39.83" height="11.2" fill="#2b4a80"/>
<rect x="282.70" y="341.86" width="34.14" height="11.2" fill="#2b4a80"/>
<rect x="282.70" y="355.12" width="31.30" height="11.2" fill="#2b4a80"/>
<rect x="282.70" y="368.38" width="31.30" height="11.2" fill="#2b4a80"/>
<rect x="282.70" y="381.64" width="22.76" height="11.2" fill="#2b4a80"/>
<rect x="282.70" y="394.90" width="19.92" height="11.2" fill="#2b4a80"/>
<rect x="282.70" y="408.16" width="19.92" height="11.2" fill="#2b4a80"/>
<rect x="282.70" y="421.42" width="19.92" height="11.2" fill="#2b4a80"/>
<rect x="282.70" y="434.68" width="17.07" height="11.2" fill="#2b4a80"/>
<rect x="282.70" y="447.94" width="14.23" height="11.2" fill="#2b4a80"/>
<rect x="282.70" y="461.20" width="14.23" height="11.2" fill="#2b4a80"/>
<rect x="282.70" y="474.46" width="11.38" height="11.2" fill="#2b4a80"/>
<rect x="282.70" y="487.72" width="8.54" height="11.2" fill="#2b4a80"/>
<rect x="282.70" y="500.98" width="8.54" height="11.2" fill="#2b4a80"/>
<rect x="282.70" y="514.24" width="5.69" height="11.2" fill="#2b4a80"/>
<rect x="282.70" y="527.50" width="5.69" height="11.2" fill="#2b4a80"/>
<rect x="282.70" y="540.76" width="5.69" height="11.2" fill="#2b4a80"/>
<rect x="282.70" y="554.02" width="5.69" height="11.2" fill="#2b4a80"/>
<rect x="280.20" y="326.1" width="56.1" height="241.20" fill="none" stroke="#111" stroke-width="1.1"/>
<line x1="282.70" y1="567.3" x2="282.70" y2="570.6999999999999" stroke="#222" stroke-width="0.8"/>
<text transform="translate(285.70,576.5999999999999) rotate(-45)" font-size="7" textLength="8.8" lengthAdjust="spacingAndGlyphs" text-anchor="end" fill="#1e1e1e">0.0</text>
<line x1="294.65" y1="567.3" x2="294.65" y2="570.6999999999999" stroke="#222" stroke-width="0.8"/>
<text transform="translate(297.65,576.5999999999999) rotate(-45)" font-size="7" textLength="8.8" lengthAdjust="spacingAndGlyphs" text-anchor="end" fill="#1e1e1e">0.2</text>
<line x1="306.60" y1="567.3" x2="306.60" y2="570.6999999999999" stroke="#222" stroke-width="0.8"/>
<text transform="translate(309.60,576.5999999999999) rotate(-45)" font-size="7" textLength="8.8" lengthAdjust="spacingAndGlyphs" text-anchor="end" fill="#1e1e1e">0.4</text>
<line x1="318.55" y1="567.3" x2="318.55" y2="570.6999999999999" stroke="#222" stroke-width="0.8"/>
<text transform="translate(321.55,576.5999999999999) rotate(-45)" font-size="7" textLength="8.8" lengthAdjust="spacingAndGlyphs" text-anchor="end" fill="#1e1e1e">0.6</text>
<line x1="330.50" y1="567.3" x2="330.50" y2="570.6999999999999" stroke="#222" stroke-width="0.8"/>
<text transform="translate(333.50,576.5999999999999) rotate(-45)" font-size="7" textLength="8.8" lengthAdjust="spacingAndGlyphs" text-anchor="end" fill="#1e1e1e">0.8</text>
<rect x="338.30" y="316.8" width="57.70" height="7.9" fill="#cacaca"/>
<text x="367.25" y="324.0" font-size="6.5" text-anchor="middle" fill="#1e1e1e">PCNSL</text>
<rect x="341.70" y="328.60" width="34.42" height="11.2" fill="#64a6dc"/>
<rect x="341.70" y="341.86" width="50.97" height="11.2" fill="#64a6dc"/>
<rect x="341.70" y="355.12" width="14.94" height="11.2" fill="#64a6dc"/>
<rect x="341.70" y="368.38" width="20.79" height="11.2" fill="#64a6dc"/>
<rect x="341.70" y="381.64" width="17.93" height="11.2" fill="#64a6dc"/>
<rect x="341.70" y="394.90" width="16.31" height="11.2" fill="#64a6dc"/>
<rect x="341.70" y="408.16" width="13.32" height="11.2" fill="#64a6dc"/>
<rect x="341.70" y="421.42" width="37.40" height="11.2" fill="#64a6dc"/>
<rect x="341.70" y="434.68" width="10.22" height="11.2" fill="#64a6dc"/>
<rect x="341.70" y="447.94" width="19.12" height="11.2" fill="#64a6dc"/>
<rect x="341.70" y="461.20" width="19.12" height="11.2" fill="#64a6dc"/>
<rect x="341.70" y="474.46" width="1.20" height="11.2" fill="#64a6dc"/>
<rect x="341.70" y="487.72" width="11.95" height="11.2" fill="#64a6dc"/>
<rect x="341.70" y="500.98" width="13.32" height="11.2" fill="#64a6dc"/>
<rect x="341.70" y="514.24" width="4.30" height="11.2" fill="#64a6dc"/>
<rect x="341.70" y="527.50" width="7.17" height="11.2" fill="#64a6dc"/>
<rect x="341.70" y="540.76" width="2.93" height="11.2" fill="#64a6dc"/>
<rect x="341.70" y="554.02" width="17.93" height="11.2" fill="#64a6dc"/>
<rect x="339.20" y="326.1" width="56.1" height="241.20" fill="none" stroke="#111" stroke-width="1.1"/>
<line x1="341.70" y1="567.3" x2="341.70" y2="570.6999999999999" stroke="#222" stroke-width="0.8"/>
<text transform="translate(344.70,576.5999999999999) rotate(-45)" font-size="7" textLength="8.8" lengthAdjust="spacingAndGlyphs" text-anchor="end" fill="#1e1e1e">0.0</text>
<line x1="353.65" y1="567.3" x2="353.65" y2="570.6999999999999" stroke="#222" stroke-width="0.8"/>
<text transform="translate(356.65,576.5999999999999) rotate(-45)" font-size="7" textLength="8.8" lengthAdjust="spacingAndGlyphs" text-anchor="end" fill="#1e1e1e">0.2</text>
<line x1="365.60" y1="567.3" x2="365.60" y2="570.6999999999999" stroke="#222" stroke-width="0.8"/>
<text transform="translate(368.60,576.5999999999999) rotate(-45)" font-size="7" textLength="8.8" lengthAdjust="spacingAndGlyphs" text-anchor="end" fill="#1e1e1e">0.4</text>
<line x1="377.55" y1="567.3" x2="377.55" y2="570.6999999999999" stroke="#222" stroke-width="0.8"/>
<text transform="translate(380.55,576.5999999999999) rotate(-45)" font-size="7" textLength="8.8" lengthAdjust="spacingAndGlyphs" text-anchor="end" fill="#1e1e1e">0.6</text>
<line x1="389.50" y1="567.3" x2="389.50" y2="570.6999999999999" stroke="#222" stroke-width="0.8"/>
<text transform="translate(392.50,576.5999999999999) rotate(-45)" font-size="7" textLength="8.8" lengthAdjust="spacingAndGlyphs" text-anchor="end" fill="#1e1e1e">0.8</text>
<rect x="397.30" y="316.8" width="57.70" height="7.9" fill="#cacaca"/>
<text x="426.25" y="324.0" font-size="6.5" text-anchor="middle" fill="#1e1e1e">ABC-type DLBCL</text>
<rect x="400.70" y="328.60" width="7.77" height="11.2" fill="#66a33c"/>
<rect x="400.70" y="341.86" width="17.93" height="11.2" fill="#66a33c"/>
<rect x="400.70" y="355.12" width="5.08" height="11.2" fill="#66a33c"/>
<rect x="400.70" y="368.38" width="4.78" height="11.2" fill="#66a33c"/>
<rect x="400.70" y="381.64" width="2.09" height="11.2" fill="#66a33c"/>
<rect x="400.70" y="394.90" width="0.90" height="11.2" fill="#66a33c"/>
<rect x="400.70" y="408.16" width="3.58" height="11.2" fill="#66a33c"/>
<rect x="400.70" y="421.42" width="9.86" height="11.2" fill="#66a33c"/>
<rect x="400.70" y="434.68" width="0.90" height="11.2" fill="#66a33c"/>
<rect x="400.70" y="447.94" width="13.74" height="11.2" fill="#66a33c"/>
<rect x="400.70" y="461.20" width="6.27" height="11.2" fill="#66a33c"/>
<rect x="400.70" y="474.46" width="1.20" height="11.2" fill="#66a33c"/>
<rect x="400.70" y="487.72" width="7.77" height="11.2" fill="#66a33c"/>
<rect x="400.70" y="500.98" width="3.58" height="11.2" fill="#66a33c"/>
<rect x="400.70" y="514.24" width="3.58" height="11.2" fill="#66a33c"/>
<rect x="400.70" y="527.50" width="2.99" height="11.2" fill="#66a33c"/>
<rect x="400.70" y="540.76" width="1.20" height="11.2" fill="#66a33c"/>
<rect x="400.70" y="554.02" width="4.78" height="11.2" fill="#66a33c"/>
<rect x="398.20" y="326.1" width="56.1" height="241.20" fill="none" stroke="#111" stroke-width="1.1"/>
<line x1="400.70" y1="567.3" x2="400.70" y2="570.6999999999999" stroke="#222" stroke-width="0.8"/>
<text transform="translate(403.70,576.5999999999999) rotate(-45)" font-size="7" textLength="8.8" lengthAdjust="spacingAndGlyphs" text-anchor="end" fill="#1e1e1e">0.0</text>
<line x1="412.65" y1="567.3" x2="412.65" y2="570.6999999999999" stroke="#222" stroke-width="0.8"/>
<text transform="translate(415.65,576.5999999999999) rotate(-45)" font-size="7" textLength="8.8" lengthAdjust="spacingAndGlyphs" text-anchor="end" fill="#1e1e1e">0.2</text>
<line x1="424.60" y1="567.3" x2="424.60" y2="570.6999999999999" stroke="#222" stroke-width="0.8"/>
<text transform="translate(427.60,576.5999999999999) rotate(-45)" font-size="7" textLength="8.8" lengthAdjust="spacingAndGlyphs" text-anchor="end" fill="#1e1e1e">0.4</text>
<line x1="436.55" y1="567.3" x2="436.55" y2="570.6999999999999" stroke="#222" stroke-width="0.8"/>
<text transform="translate(439.55,576.5999999999999) rotate(-45)" font-size="7" textLength="8.8" lengthAdjust="spacingAndGlyphs" text-anchor="end" fill="#1e1e1e">0.6</text>
<line x1="448.50" y1="567.3" x2="448.50" y2="570.6999999999999" stroke="#222" stroke-width="0.8"/>
<text transform="translate(451.50,576.5999999999999) rotate(-45)" font-size="7" textLength="8.8" lengthAdjust="spacingAndGlyphs" text-anchor="end" fill="#1e1e1e">0.8</text>
<rect x="456.30" y="316.8" width="57.70" height="7.9" fill="#cacaca"/>
<text x="485.25" y="324.0" font-size="6.5" text-anchor="middle" fill="#1e1e1e">GCB-type DLBCL</text>
<rect x="459.70" y="328.60" width="1.49" height="11.2" fill="#4a1f66"/>
<rect x="459.70" y="341.86" width="3.58" height="11.2" fill="#4a1f66"/>
<rect x="459.70" y="355.12" width="1.49" height="11.2" fill="#4a1f66"/>
<rect x="459.70" y="368.38" width="5.08" height="11.2" fill="#4a1f66"/>
<rect x="459.70" y="381.64" width="1.20" height="11.2" fill="#4a1f66"/>
<rect x="459.70" y="394.90" width="1.79" height="11.2" fill="#4a1f66"/>
<rect x="459.70" y="408.16" width="1.49" height="11.2" fill="#4a1f66"/>
<rect x="459.70" y="421.42" width="3.88" height="11.2" fill="#4a1f66"/>
<rect x="459.70" y="434.68" width="2.39" height="11.2" fill="#4a1f66"/>
<rect x="459.70" y="447.94" width="18.52" height="11.2" fill="#4a1f66"/>
<rect x="459.70" y="461.20" width="2.81" height="11.2" fill="#4a1f66"/>
<rect x="459.70" y="474.46" width="1.20" height="11.2" fill="#4a1f66"/>
<rect x="459.70" y="487.72" width="8.01" height="11.2" fill="#4a1f66"/>
<rect x="459.70" y="500.98" width="4.42" height="11.2" fill="#4a1f66"/>
<rect x="459.70" y="514.24" width="3.58" height="11.2" fill="#4a1f66"/>
<rect x="459.70" y="527.50" width="1.79" height="11.2" fill="#4a1f66"/>
<rect x="459.70" y="540.76" width="3.29" height="11.2" fill="#4a1f66"/>
<rect x="459.70" y="554.02" width="0.60" height="11.2" fill="#4a1f66"/>
<rect x="457.20" y="326.1" width="56.1" height="241.20" fill="none" stroke="#111" stroke-width="1.1"/>
<line x1="459.70" y1="567.3" x2="459.70" y2="570.6999999999999" stroke="#222" stroke-width="0.8"/>
<text transform="translate(462.70,576.5999999999999) rotate(-45)" font-size="7" textLength="8.8" lengthAdjust="spacingAndGlyphs" text-anchor="end" fill="#1e1e1e">0.0</text>
<line x1="471.65" y1="567.3" x2="471.65" y2="570.6999999999999" stroke="#222" stroke-width="0.8"/>
<text transform="translate(474.65,576.5999999999999) rotate(-45)" font-size="7" textLength="8.8" lengthAdjust="spacingAndGlyphs" text-anchor="end" fill="#1e1e1e">0.2</text>
<line x1="483.60" y1="567.3" x2="483.60" y2="570.6999999999999" stroke="#222" stroke-width="0.8"/>
<text transform="translate(486.60,576.5999999999999) rotate(-45)" font-size="7" textLength="8.8" lengthAdjust="spacingAndGlyphs" text-anchor="end" fill="#1e1e1e">0.4</text>
<line x1="495.55" y1="567.3" x2="495.55" y2="570.6999999999999" stroke="#222" stroke-width="0.8"/>
<text transform="translate(498.55,576.5999999999999) rotate(-45)" font-size="7" textLength="8.8" lengthAdjust="spacingAndGlyphs" text-anchor="end" fill="#1e1e1e">0.6</text>
<line x1="507.50" y1="567.3" x2="507.50" y2="570.6999999999999" stroke="#222" stroke-width="0.8"/>
<text transform="translate(510.50,576.5999999999999) rotate(-45)" font-size="7" textLength="8.8" lengthAdjust="spacingAndGlyphs" text-anchor="end" fill="#1e1e1e">0.8</text>
<line x1="277.3" y1="334.20" x2="280.2" y2="334.20" stroke="#222" stroke-width="0.8"/>
<text x="274.8" y="336.50" font-size="6.6" font-style="italic" text-anchor="end" fill="#1e1e1e">*CD79B</text>
<line x1="277.3" y1="347.46" x2="280.2" y2="347.46" stroke="#222" stroke-width="0.8"/>
<text x="274.8" y="349.76" font-size="6.6" font-style="italic" text-anchor="end" fill="#1e1e1e">*MYD88</text>
<line x1="277.3" y1="360.72" x2="280.2" y2="360.72" stroke="#222" stroke-width="0.8"/>
<text x="274.8" y="363.02" font-size="6.6" font-style="italic" text-anchor="end" fill="#1e1e1e">*TBL1XR1</text>
<line x1="277.3" y1="373.98" x2="280.2" y2="373.98" stroke="#222" stroke-width="0.8"/>
<text x="274.8" y="376.28" font-size="6.6" font-style="italic" text-anchor="end" fill="#1e1e1e">*SETD1B</text>
<line x1="277.3" y1="387.24" x2="280.2" y2="387.24" stroke="#222" stroke-width="0.8"/>
<text x="274.8" y="389.54" font-size="6.6" font-style="italic" text-anchor="end" fill="#1e1e1e">*IRF4</text>
<line x1="277.3" y1="400.50" x2="280.2" y2="400.50" stroke="#222" stroke-width="0.8"/>
<text x="274.8" y="402.80" font-size="6.6" font-style="italic" text-anchor="end" fill="#1e1e1e">*TOX</text>
<line x1="277.3" y1="413.76" x2="280.2" y2="413.76" stroke="#222" stroke-width="0.8"/>
<text x="274.8" y="416.06" font-size="6.6" font-style="italic" text-anchor="end" fill="#1e1e1e">*PRDM1</text>
<line x1="277.3" y1="427.02" x2="280.2" y2="427.02" stroke="#222" stroke-width="0.8"/>
<text x="274.8" y="429.32" font-size="6.6" font-style="italic" text-anchor="end" fill="#1e1e1e">HLA-B</text>
<line x1="277.3" y1="440.28" x2="280.2" y2="440.28" stroke="#222" stroke-width="0.8"/>
<text x="274.8" y="442.58" font-size="6.6" font-style="italic" text-anchor="end" fill="#1e1e1e">*CD58</text>
<line x1="277.3" y1="453.54" x2="280.2" y2="453.54" stroke="#222" stroke-width="0.8"/>
<text x="274.8" y="455.84" font-size="6.6" font-style="italic" text-anchor="end" fill="#1e1e1e">KMT2D</text>
<line x1="277.3" y1="466.80" x2="280.2" y2="466.80" stroke="#222" stroke-width="0.8"/>
<text x="274.8" y="469.10" font-size="6.6" font-style="italic" text-anchor="end" fill="#1e1e1e">HLA-A</text>
<line x1="277.3" y1="480.06" x2="280.2" y2="480.06" stroke="#222" stroke-width="0.8"/>
<text x="274.8" y="482.36" font-size="6.6" font-style="italic" text-anchor="end" fill="#1e1e1e">*CIITA</text>
<line x1="277.3" y1="493.32" x2="280.2" y2="493.32" stroke="#222" stroke-width="0.8"/>
<text x="274.8" y="495.62" font-size="6.6" font-style="italic" text-anchor="end" fill="#1e1e1e">TP53</text>
<line x1="277.3" y1="506.58" x2="280.2" y2="506.58" stroke="#222" stroke-width="0.8"/>
<text x="274.8" y="508.88" font-size="6.6" font-style="italic" text-anchor="end" fill="#1e1e1e">EP300</text>
<line x1="277.3" y1="519.84" x2="280.2" y2="519.84" stroke="#222" stroke-width="0.8"/>
<text x="274.8" y="522.14" font-size="6.6" font-style="italic" text-anchor="end" fill="#1e1e1e">TNFAIP3</text>
<line x1="277.3" y1="533.10" x2="280.2" y2="533.10" stroke="#222" stroke-width="0.8"/>
<text x="274.8" y="535.40" font-size="6.6" font-style="italic" text-anchor="end" fill="#1e1e1e">TMEM30A</text>
<line x1="277.3" y1="546.36" x2="280.2" y2="546.36" stroke="#222" stroke-width="0.8"/>
<text x="274.8" y="548.66" font-size="6.6" font-style="italic" text-anchor="end" fill="#1e1e1e">NFKBIE</text>
<line x1="277.3" y1="559.62" x2="280.2" y2="559.62" stroke="#222" stroke-width="0.8"/>
<text x="274.8" y="561.92" font-size="6.6" font-style="italic" text-anchor="end" fill="#1e1e1e">HLA-C</text>
<text x="392.6" y="594.8" font-size="9.5" text-anchor="middle" textLength="34.2" lengthAdjust="spacingAndGlyphs" fill="#1e1e1e">Frequency</text>
<rect x="0.5" y="0.5" width="519" height="604" fill="none" stroke="#000" stroke-width="1.2"/>
</svg>
</body></html>
